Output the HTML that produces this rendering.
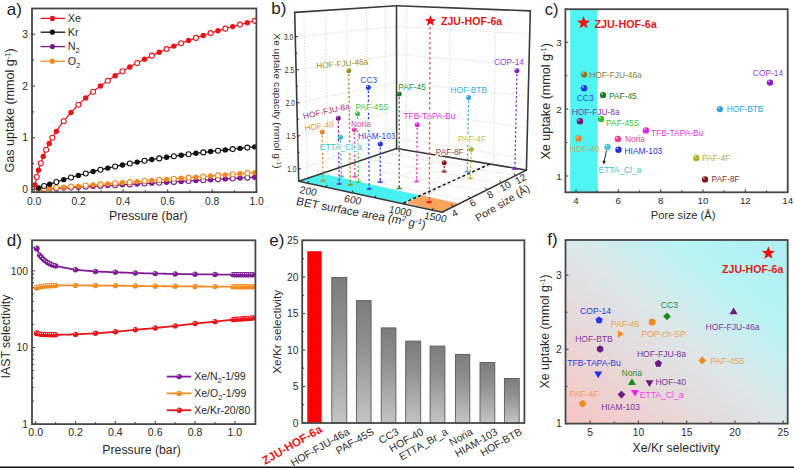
<!DOCTYPE html>
<html><head><meta charset="utf-8"><style>
html,body{margin:0;padding:0;background:#fff;width:794px;height:468px;overflow:hidden}
svg{display:block}
</style></head><body><svg width="794" height="468" viewBox="0 0 794 468" font-family='"Liberation Sans", sans-serif'><defs><radialGradient id="g8c7c28" cx="0.38" cy="0.35" r="0.65" fx="0.3" fy="0.28"><stop offset="0" stop-color="#ffffff"/><stop offset="0.3" stop-color="#8c7c28"/><stop offset="1" stop-color="#8c7c28"/></radialGradient><radialGradient id="g2038e8" cx="0.38" cy="0.35" r="0.65" fx="0.3" fy="0.28"><stop offset="0" stop-color="#ffffff"/><stop offset="0.3" stop-color="#2038e8"/><stop offset="1" stop-color="#2038e8"/></radialGradient><radialGradient id="g1e7a1e" cx="0.38" cy="0.35" r="0.65" fx="0.3" fy="0.28"><stop offset="0" stop-color="#ffffff"/><stop offset="0.3" stop-color="#1e7a1e"/><stop offset="1" stop-color="#1e7a1e"/></radialGradient><radialGradient id="g6a1a80" cx="0.38" cy="0.35" r="0.65" fx="0.3" fy="0.28"><stop offset="0" stop-color="#ffffff"/><stop offset="0.3" stop-color="#6a1a80"/><stop offset="1" stop-color="#6a1a80"/></radialGradient><radialGradient id="g30c030" cx="0.38" cy="0.35" r="0.65" fx="0.3" fy="0.28"><stop offset="0" stop-color="#ffffff"/><stop offset="0.3" stop-color="#30c030"/><stop offset="1" stop-color="#30c030"/></radialGradient><radialGradient id="ge020e0" cx="0.38" cy="0.35" r="0.65" fx="0.3" fy="0.28"><stop offset="0" stop-color="#ffffff"/><stop offset="0.3" stop-color="#e020e0"/><stop offset="1" stop-color="#e020e0"/></radialGradient><radialGradient id="ge8862c" cx="0.38" cy="0.35" r="0.65" fx="0.3" fy="0.28"><stop offset="0" stop-color="#ffffff"/><stop offset="0.3" stop-color="#e8862c"/><stop offset="1" stop-color="#e8862c"/></radialGradient><radialGradient id="ge84090" cx="0.38" cy="0.35" r="0.65" fx="0.3" fy="0.28"><stop offset="0" stop-color="#ffffff"/><stop offset="0.3" stop-color="#e84090"/><stop offset="1" stop-color="#e84090"/></radialGradient><radialGradient id="g40c8d0" cx="0.38" cy="0.35" r="0.65" fx="0.3" fy="0.28"><stop offset="0" stop-color="#ffffff"/><stop offset="0.3" stop-color="#40c8d0"/><stop offset="1" stop-color="#40c8d0"/></radialGradient><radialGradient id="g2030d0" cx="0.38" cy="0.35" r="0.65" fx="0.3" fy="0.28"><stop offset="0" stop-color="#ffffff"/><stop offset="0.3" stop-color="#2030d0"/><stop offset="1" stop-color="#2030d0"/></radialGradient><radialGradient id="g8a20d0" cx="0.38" cy="0.35" r="0.65" fx="0.3" fy="0.28"><stop offset="0" stop-color="#ffffff"/><stop offset="0.3" stop-color="#8a20d0"/><stop offset="1" stop-color="#8a20d0"/></radialGradient><radialGradient id="g30a0e0" cx="0.38" cy="0.35" r="0.65" fx="0.3" fy="0.28"><stop offset="0" stop-color="#ffffff"/><stop offset="0.3" stop-color="#30a0e0"/><stop offset="1" stop-color="#30a0e0"/></radialGradient><radialGradient id="gb0b030" cx="0.38" cy="0.35" r="0.65" fx="0.3" fy="0.28"><stop offset="0" stop-color="#ffffff"/><stop offset="0.3" stop-color="#b0b030"/><stop offset="1" stop-color="#b0b030"/></radialGradient><radialGradient id="g801818" cx="0.38" cy="0.35" r="0.65" fx="0.3" fy="0.28"><stop offset="0" stop-color="#ffffff"/><stop offset="0.3" stop-color="#801818"/><stop offset="1" stop-color="#801818"/></radialGradient><radialGradient id="g7e1e96" cx="0.38" cy="0.35" r="0.65" fx="0.3" fy="0.28"><stop offset="0" stop-color="#ffffff"/><stop offset="0.3" stop-color="#7e1e96"/><stop offset="1" stop-color="#7e1e96"/></radialGradient><radialGradient id="gf28c22" cx="0.38" cy="0.35" r="0.65" fx="0.3" fy="0.28"><stop offset="0" stop-color="#ffffff"/><stop offset="0.3" stop-color="#f28c22"/><stop offset="1" stop-color="#f28c22"/></radialGradient><radialGradient id="ge8141a" cx="0.38" cy="0.35" r="0.65" fx="0.3" fy="0.28"><stop offset="0" stop-color="#ffffff"/><stop offset="0.3" stop-color="#e8141a"/><stop offset="1" stop-color="#e8141a"/></radialGradient><radialGradient id="g8c8c1e" cx="0.38" cy="0.35" r="0.65" fx="0.3" fy="0.28"><stop offset="0" stop-color="#ffffff"/><stop offset="0.3" stop-color="#8c8c1e"/><stop offset="1" stop-color="#8c8c1e"/></radialGradient><radialGradient id="g2040e0" cx="0.38" cy="0.35" r="0.65" fx="0.3" fy="0.28"><stop offset="0" stop-color="#ffffff"/><stop offset="0.3" stop-color="#2040e0"/><stop offset="1" stop-color="#2040e0"/></radialGradient><radialGradient id="g7a1a8a" cx="0.38" cy="0.35" r="0.65" fx="0.3" fy="0.28"><stop offset="0" stop-color="#ffffff"/><stop offset="0.3" stop-color="#7a1a8a"/><stop offset="1" stop-color="#7a1a8a"/></radialGradient><radialGradient id="g40c040" cx="0.38" cy="0.35" r="0.65" fx="0.3" fy="0.28"><stop offset="0" stop-color="#ffffff"/><stop offset="0.3" stop-color="#40c040"/><stop offset="1" stop-color="#40c040"/></radialGradient><radialGradient id="ge08020" cx="0.38" cy="0.35" r="0.65" fx="0.3" fy="0.28"><stop offset="0" stop-color="#ffffff"/><stop offset="0.3" stop-color="#e08020"/><stop offset="1" stop-color="#e08020"/></radialGradient><radialGradient id="ge040a0" cx="0.38" cy="0.35" r="0.65" fx="0.3" fy="0.28"><stop offset="0" stop-color="#ffffff"/><stop offset="0.3" stop-color="#e040a0"/><stop offset="1" stop-color="#e040a0"/></radialGradient><radialGradient id="g30b8c8" cx="0.38" cy="0.35" r="0.65" fx="0.3" fy="0.28"><stop offset="0" stop-color="#ffffff"/><stop offset="0.3" stop-color="#30b8c8"/><stop offset="1" stop-color="#30b8c8"/></radialGradient><radialGradient id="g1a7a1a" cx="0.38" cy="0.35" r="0.65" fx="0.3" fy="0.28"><stop offset="0" stop-color="#ffffff"/><stop offset="0.3" stop-color="#1a7a1a"/><stop offset="1" stop-color="#1a7a1a"/></radialGradient><radialGradient id="g7020c8" cx="0.38" cy="0.35" r="0.65" fx="0.3" fy="0.28"><stop offset="0" stop-color="#ffffff"/><stop offset="0.3" stop-color="#7020c8"/><stop offset="1" stop-color="#7020c8"/></radialGradient><radialGradient id="gb0b020" cx="0.38" cy="0.35" r="0.65" fx="0.3" fy="0.28"><stop offset="0" stop-color="#ffffff"/><stop offset="0.3" stop-color="#b0b020"/><stop offset="1" stop-color="#b0b020"/></radialGradient></defs><text x="6.7" y="15.2" font-size="17" fill="#222" text-anchor="start" font-weight="normal" >a)</text><clipPath id="clipa"><rect x="32" y="8.5" width="224.39999999999998" height="183.7"/></clipPath><g clip-path="url(#clipa)"><polyline points="34.1,189.5 35.97,180.35 37.84,172.83 39.71,166.45 41.58,160.9 43.45,155.97 45.32,151.54 47.19,147.49 49.06,143.76 50.94,140.29 52.81,137.04 54.68,133.98 56.55,131.09 58.42,128.33 60.29,125.71 62.16,123.19 64.03,120.78 65.9,118.46 67.77,116.23 69.64,114.07 71.51,111.98 73.38,109.96 75.25,107.99 77.12,106.09 78.99,104.23 80.86,102.43 82.74,100.68 84.61,98.96 86.48,97.29 88.35,95.67 90.22,94.07 92.09,92.52 93.96,91 95.83,89.51 97.7,88.05 99.57,86.63 101.44,85.23 103.31,83.86 105.18,82.52 107.05,81.2 108.92,79.91 110.79,78.64 112.66,77.4 114.54,76.18 116.41,74.98 118.28,73.8 120.15,72.65 122.02,71.51 123.89,70.39 125.76,69.29 127.63,68.21 129.5,67.15 131.37,66.1 133.24,65.07 135.11,64.06 136.98,63.06 138.85,62.08 140.72,61.11 142.59,60.16 144.46,59.22 146.34,58.29 148.21,57.38 150.08,56.49 151.95,55.6 153.82,54.73 155.69,53.87 157.56,53.02 159.43,52.19 161.3,51.36 163.17,50.55 165.04,49.75 166.91,48.96 168.78,48.18 170.65,47.41 172.52,46.65 174.39,45.9 176.26,45.16 178.14,44.43 180.01,43.71 181.88,43 183.75,42.29 185.62,41.6 187.49,40.91 189.36,40.23 191.23,39.57 193.1,38.9 194.97,38.25 196.84,37.61 198.71,36.97 200.58,36.34 202.45,35.72 204.32,35.1 206.19,34.49 208.06,33.89 209.94,33.3 211.81,32.71 213.68,32.13 215.55,31.56 217.42,30.99 219.29,30.43 221.16,29.87 223.03,29.32 224.9,28.78 226.77,28.24 228.64,27.71 230.51,27.18 232.38,26.66 234.25,26.15 236.12,25.64 237.99,25.14 239.86,24.64 241.74,24.14 243.61,23.66 245.48,23.17 247.35,22.69 249.22,22.22 251.09,21.75 252.96,21.29 254.83,20.83 256.7,20.37" fill="none" stroke="#e8141a" stroke-width="1.2" /><polyline points="34.1,189.63 35.97,188.94 37.84,188.26 39.71,187.59 41.58,186.93 43.45,186.27 45.32,185.62 47.19,184.99 49.06,184.35 50.94,183.73 52.81,183.11 54.68,182.5 56.55,181.9 58.42,181.31 60.29,180.72 62.16,180.14 64.03,179.57 65.9,179.01 67.77,178.45 69.64,177.9 71.51,177.35 73.38,176.81 75.25,176.28 77.12,175.76 78.99,175.24 80.86,174.73 82.74,174.23 84.61,173.73 86.48,173.24 88.35,172.76 90.22,172.28 92.09,171.8 93.96,171.34 95.83,170.88 97.7,170.42 99.57,169.98 101.44,169.53 103.31,169.1 105.18,168.67 107.05,168.24 108.92,167.82 110.79,167.41 112.66,167 114.54,166.59 116.41,166.2 118.28,165.8 120.15,165.42 122.02,165.03 123.89,164.66 125.76,164.28 127.63,163.92 129.5,163.55 131.37,163.2 133.24,162.84 135.11,162.49 136.98,162.15 138.85,161.81 140.72,161.48 142.59,161.14 144.46,160.82 146.34,160.5 148.21,160.18 150.08,159.87 151.95,159.56 153.82,159.25 155.69,158.95 157.56,158.65 159.43,158.36 161.3,158.07 163.17,157.78 165.04,157.5 166.91,157.22 168.78,156.94 170.65,156.67 172.52,156.4 174.39,156.13 176.26,155.87 178.14,155.61 180.01,155.35 181.88,155.1 183.75,154.85 185.62,154.6 187.49,154.36 189.36,154.11 191.23,153.87 193.1,153.64 194.97,153.4 196.84,153.17 198.71,152.94 200.58,152.71 202.45,152.49 204.32,152.26 206.19,152.04 208.06,151.82 209.94,151.61 211.81,151.39 213.68,151.18 215.55,150.97 217.42,150.76 219.29,150.55 221.16,150.34 223.03,150.14 224.9,149.93 226.77,149.73 228.64,149.53 230.51,149.33 232.38,149.13 234.25,148.94 236.12,148.74 237.99,148.54 239.86,148.35 241.74,148.16 243.61,147.96 245.48,147.77 247.35,147.58 249.22,147.39 251.09,147.2 252.96,147.01 254.83,146.82 256.7,146.63" fill="none" stroke="#111111" stroke-width="1.2" /><polyline points="34.1,189.5 35.97,189.42 37.84,189.33 39.71,189.24 41.58,189.15 43.45,189.05 45.32,188.96 47.19,188.87 49.06,188.77 50.94,188.67 52.81,188.58 54.68,188.48 56.55,188.38 58.42,188.29 60.29,188.19 62.16,188.09 64.03,187.99 65.9,187.89 67.77,187.79 69.64,187.69 71.51,187.59 73.38,187.49 75.25,187.39 77.12,187.29 78.99,187.19 80.86,187.09 82.74,186.99 84.61,186.88 86.48,186.78 88.35,186.68 90.22,186.58 92.09,186.47 93.96,186.37 95.83,186.27 97.7,186.17 99.57,186.06 101.44,185.96 103.31,185.86 105.18,185.75 107.05,185.65 108.92,185.55 110.79,185.44 112.66,185.34 114.54,185.23 116.41,185.13 118.28,185.03 120.15,184.92 122.02,184.82 123.89,184.71 125.76,184.61 127.63,184.5 129.5,184.4 131.37,184.29 133.24,184.19 135.11,184.08 136.98,183.98 138.85,183.87 140.72,183.77 142.59,183.66 144.46,183.55 146.34,183.45 148.21,183.34 150.08,183.24 151.95,183.13 153.82,183.02 155.69,182.92 157.56,182.81 159.43,182.71 161.3,182.6 163.17,182.49 165.04,182.39 166.91,182.28 168.78,182.17 170.65,182.06 172.52,181.96 174.39,181.85 176.26,181.74 178.14,181.64 180.01,181.53 181.88,181.42 183.75,181.31 185.62,181.21 187.49,181.1 189.36,180.99 191.23,180.88 193.1,180.78 194.97,180.67 196.84,180.56 198.71,180.45 200.58,180.35 202.45,180.24 204.32,180.13 206.19,180.02 208.06,179.91 209.94,179.8 211.81,179.7 213.68,179.59 215.55,179.48 217.42,179.37 219.29,179.26 221.16,179.15 223.03,179.04 224.9,178.94 226.77,178.83 228.64,178.72 230.51,178.61 232.38,178.5 234.25,178.39 236.12,178.28 237.99,178.17 239.86,178.06 241.74,177.96 243.61,177.85 245.48,177.74 247.35,177.63 249.22,177.52 251.09,177.41 252.96,177.3 254.83,177.19 256.7,177.08" fill="none" stroke="#7a1a8c" stroke-width="1.2" /><polyline points="34.1,189.5 35.97,189.36 37.84,189.21 39.71,189.07 41.58,188.93 43.45,188.78 45.32,188.64 47.19,188.5 49.06,188.35 50.94,188.21 52.81,188.06 54.68,187.92 56.55,187.78 58.42,187.63 60.29,187.49 62.16,187.35 64.03,187.2 65.9,187.06 67.77,186.92 69.64,186.77 71.51,186.63 73.38,186.49 75.25,186.34 77.12,186.2 78.99,186.06 80.86,185.91 82.74,185.77 84.61,185.63 86.48,185.48 88.35,185.34 90.22,185.19 92.09,185.05 93.96,184.91 95.83,184.76 97.7,184.62 99.57,184.48 101.44,184.33 103.31,184.19 105.18,184.05 107.05,183.9 108.92,183.76 110.79,183.62 112.66,183.47 114.54,183.33 116.41,183.19 118.28,183.04 120.15,182.9 122.02,182.76 123.89,182.61 125.76,182.47 127.63,182.32 129.5,182.18 131.37,182.04 133.24,181.89 135.11,181.75 136.98,181.61 138.85,181.46 140.72,181.32 142.59,181.18 144.46,181.03 146.34,180.89 148.21,180.75 150.08,180.6 151.95,180.46 153.82,180.32 155.69,180.17 157.56,180.03 159.43,179.88 161.3,179.74 163.17,179.6 165.04,179.45 166.91,179.31 168.78,179.17 170.65,179.02 172.52,178.88 174.39,178.74 176.26,178.59 178.14,178.45 180.01,178.31 181.88,178.16 183.75,178.02 185.62,177.88 187.49,177.73 189.36,177.59 191.23,177.45 193.1,177.3 194.97,177.16 196.84,177.01 198.71,176.87 200.58,176.73 202.45,176.58 204.32,176.44 206.19,176.3 208.06,176.15 209.94,176.01 211.81,175.87 213.68,175.72 215.55,175.58 217.42,175.44 219.29,175.29 221.16,175.15 223.03,175.01 224.9,174.86 226.77,174.72 228.64,174.58 230.51,174.43 232.38,174.29 234.25,174.14 236.12,174 237.99,173.86 239.86,173.71 241.74,173.57 243.61,173.43 245.48,173.28 247.35,173.14 249.22,173 251.09,172.85 252.96,172.71 254.83,172.57 256.7,172.42" fill="none" stroke="#f08a24" stroke-width="1.2" /><circle cx="38.55" cy="189.3" r="2.7" fill="#7a1a8c" stroke="none" stroke-width="1" /><circle cx="49.68" cy="188.74" r="2.7" fill="#7a1a8c" stroke="none" stroke-width="1" /><circle cx="63.71" cy="188.01" r="2.7" fill="#7a1a8c" stroke="none" stroke-width="1" /><circle cx="78.4" cy="187.22" r="2.7" fill="#7a1a8c" stroke="none" stroke-width="1" /><circle cx="93.09" cy="186.42" r="2.7" fill="#7a1a8c" stroke="none" stroke-width="1" /><circle cx="107.78" cy="185.61" r="2.7" fill="#7a1a8c" stroke="none" stroke-width="1" /><circle cx="122.47" cy="184.79" r="2.7" fill="#7a1a8c" stroke="none" stroke-width="1" /><circle cx="137.16" cy="183.97" r="2.7" fill="#7a1a8c" stroke="none" stroke-width="1" /><circle cx="151.86" cy="183.14" r="2.7" fill="#7a1a8c" stroke="none" stroke-width="1" /><circle cx="166.55" cy="182.3" r="2.7" fill="#7a1a8c" stroke="none" stroke-width="1" /><circle cx="181.24" cy="181.46" r="2.7" fill="#7a1a8c" stroke="none" stroke-width="1" /><circle cx="195.93" cy="180.61" r="2.7" fill="#7a1a8c" stroke="none" stroke-width="1" /><circle cx="210.62" cy="179.76" r="2.7" fill="#7a1a8c" stroke="none" stroke-width="1" /><circle cx="225.31" cy="178.91" r="2.7" fill="#7a1a8c" stroke="none" stroke-width="1" /><circle cx="240" cy="178.06" r="2.7" fill="#7a1a8c" stroke="none" stroke-width="1" /><circle cx="254.7" cy="177.2" r="2.7" fill="#7a1a8c" stroke="none" stroke-width="1" /><circle cx="44.12" cy="189.02" r="2.5" fill="#ffffff" stroke="#7a1a8c" stroke-width="1.1" /><circle cx="56.36" cy="188.39" r="2.5" fill="#ffffff" stroke="#7a1a8c" stroke-width="1.1" /><circle cx="71.05" cy="187.62" r="2.5" fill="#ffffff" stroke="#7a1a8c" stroke-width="1.1" /><circle cx="85.74" cy="186.82" r="2.5" fill="#ffffff" stroke="#7a1a8c" stroke-width="1.1" /><circle cx="100.43" cy="186.02" r="2.5" fill="#ffffff" stroke="#7a1a8c" stroke-width="1.1" /><circle cx="115.13" cy="185.2" r="2.5" fill="#ffffff" stroke="#7a1a8c" stroke-width="1.1" /><circle cx="129.82" cy="184.38" r="2.5" fill="#ffffff" stroke="#7a1a8c" stroke-width="1.1" /><circle cx="144.51" cy="183.55" r="2.5" fill="#ffffff" stroke="#7a1a8c" stroke-width="1.1" /><circle cx="159.2" cy="182.72" r="2.5" fill="#ffffff" stroke="#7a1a8c" stroke-width="1.1" /><circle cx="173.89" cy="181.88" r="2.5" fill="#ffffff" stroke="#7a1a8c" stroke-width="1.1" /><circle cx="188.58" cy="181.04" r="2.5" fill="#ffffff" stroke="#7a1a8c" stroke-width="1.1" /><circle cx="203.28" cy="180.19" r="2.5" fill="#ffffff" stroke="#7a1a8c" stroke-width="1.1" /><circle cx="217.97" cy="179.34" r="2.5" fill="#ffffff" stroke="#7a1a8c" stroke-width="1.1" /><circle cx="232.66" cy="178.48" r="2.5" fill="#ffffff" stroke="#7a1a8c" stroke-width="1.1" /><circle cx="247.35" cy="177.63" r="2.5" fill="#ffffff" stroke="#7a1a8c" stroke-width="1.1" /><circle cx="38.55" cy="189.16" r="2.7" fill="#f08a24" stroke="none" stroke-width="1" /><circle cx="49.68" cy="188.3" r="2.7" fill="#f08a24" stroke="none" stroke-width="1" /><circle cx="63.71" cy="187.23" r="2.7" fill="#f08a24" stroke="none" stroke-width="1" /><circle cx="78.4" cy="186.1" r="2.7" fill="#f08a24" stroke="none" stroke-width="1" /><circle cx="93.09" cy="184.97" r="2.7" fill="#f08a24" stroke="none" stroke-width="1" /><circle cx="107.78" cy="183.85" r="2.7" fill="#f08a24" stroke="none" stroke-width="1" /><circle cx="122.47" cy="182.72" r="2.7" fill="#f08a24" stroke="none" stroke-width="1" /><circle cx="137.16" cy="181.59" r="2.7" fill="#f08a24" stroke="none" stroke-width="1" /><circle cx="151.86" cy="180.47" r="2.7" fill="#f08a24" stroke="none" stroke-width="1" /><circle cx="166.55" cy="179.34" r="2.7" fill="#f08a24" stroke="none" stroke-width="1" /><circle cx="181.24" cy="178.21" r="2.7" fill="#f08a24" stroke="none" stroke-width="1" /><circle cx="195.93" cy="177.08" r="2.7" fill="#f08a24" stroke="none" stroke-width="1" /><circle cx="210.62" cy="175.96" r="2.7" fill="#f08a24" stroke="none" stroke-width="1" /><circle cx="225.31" cy="174.83" r="2.7" fill="#f08a24" stroke="none" stroke-width="1" /><circle cx="240" cy="173.7" r="2.7" fill="#f08a24" stroke="none" stroke-width="1" /><circle cx="254.7" cy="172.58" r="2.7" fill="#f08a24" stroke="none" stroke-width="1" /><circle cx="44.12" cy="188.73" r="2.5" fill="#ffffff" stroke="#f08a24" stroke-width="1.1" /><circle cx="56.36" cy="187.79" r="2.5" fill="#ffffff" stroke="#f08a24" stroke-width="1.1" /><circle cx="71.05" cy="186.67" r="2.5" fill="#ffffff" stroke="#f08a24" stroke-width="1.1" /><circle cx="85.74" cy="185.54" r="2.5" fill="#ffffff" stroke="#f08a24" stroke-width="1.1" /><circle cx="100.43" cy="184.41" r="2.5" fill="#ffffff" stroke="#f08a24" stroke-width="1.1" /><circle cx="115.13" cy="183.28" r="2.5" fill="#ffffff" stroke="#f08a24" stroke-width="1.1" /><circle cx="129.82" cy="182.16" r="2.5" fill="#ffffff" stroke="#f08a24" stroke-width="1.1" /><circle cx="144.51" cy="181.03" r="2.5" fill="#ffffff" stroke="#f08a24" stroke-width="1.1" /><circle cx="159.2" cy="179.9" r="2.5" fill="#ffffff" stroke="#f08a24" stroke-width="1.1" /><circle cx="173.89" cy="178.78" r="2.5" fill="#ffffff" stroke="#f08a24" stroke-width="1.1" /><circle cx="188.58" cy="177.65" r="2.5" fill="#ffffff" stroke="#f08a24" stroke-width="1.1" /><circle cx="203.28" cy="176.52" r="2.5" fill="#ffffff" stroke="#f08a24" stroke-width="1.1" /><circle cx="217.97" cy="175.39" r="2.5" fill="#ffffff" stroke="#f08a24" stroke-width="1.1" /><circle cx="232.66" cy="174.27" r="2.5" fill="#ffffff" stroke="#f08a24" stroke-width="1.1" /><circle cx="247.35" cy="173.14" r="2.5" fill="#ffffff" stroke="#f08a24" stroke-width="1.1" /><circle cx="38.55" cy="188" r="2.7" fill="#111111" stroke="none" stroke-width="1" /><circle cx="49.68" cy="184.15" r="2.7" fill="#111111" stroke="none" stroke-width="1" /><circle cx="63.71" cy="179.67" r="2.7" fill="#111111" stroke="none" stroke-width="1" /><circle cx="78.4" cy="175.41" r="2.7" fill="#111111" stroke="none" stroke-width="1" /><circle cx="93.09" cy="171.55" r="2.7" fill="#111111" stroke="none" stroke-width="1" /><circle cx="107.78" cy="168.08" r="2.7" fill="#111111" stroke="none" stroke-width="1" /><circle cx="122.47" cy="164.94" r="2.7" fill="#111111" stroke="none" stroke-width="1" /><circle cx="137.16" cy="162.12" r="2.7" fill="#111111" stroke="none" stroke-width="1" /><circle cx="151.86" cy="159.57" r="2.7" fill="#111111" stroke="none" stroke-width="1" /><circle cx="166.55" cy="157.27" r="2.7" fill="#111111" stroke="none" stroke-width="1" /><circle cx="181.24" cy="155.19" r="2.7" fill="#111111" stroke="none" stroke-width="1" /><circle cx="195.93" cy="153.28" r="2.7" fill="#111111" stroke="none" stroke-width="1" /><circle cx="210.62" cy="151.53" r="2.7" fill="#111111" stroke="none" stroke-width="1" /><circle cx="225.31" cy="149.89" r="2.7" fill="#111111" stroke="none" stroke-width="1" /><circle cx="240" cy="148.34" r="2.7" fill="#111111" stroke="none" stroke-width="1" /><circle cx="254.7" cy="146.84" r="2.7" fill="#111111" stroke="none" stroke-width="1" /><circle cx="44.12" cy="186.04" r="2.5" fill="#ffffff" stroke="#111111" stroke-width="1.1" /><circle cx="56.36" cy="181.96" r="2.5" fill="#ffffff" stroke="#111111" stroke-width="1.1" /><circle cx="71.05" cy="177.49" r="2.5" fill="#ffffff" stroke="#111111" stroke-width="1.1" /><circle cx="85.74" cy="173.43" r="2.5" fill="#ffffff" stroke="#111111" stroke-width="1.1" /><circle cx="100.43" cy="169.77" r="2.5" fill="#ffffff" stroke="#111111" stroke-width="1.1" /><circle cx="115.13" cy="166.47" r="2.5" fill="#ffffff" stroke="#111111" stroke-width="1.1" /><circle cx="129.82" cy="163.49" r="2.5" fill="#ffffff" stroke="#111111" stroke-width="1.1" /><circle cx="144.51" cy="160.81" r="2.5" fill="#ffffff" stroke="#111111" stroke-width="1.1" /><circle cx="159.2" cy="158.39" r="2.5" fill="#ffffff" stroke="#111111" stroke-width="1.1" /><circle cx="173.89" cy="156.2" r="2.5" fill="#ffffff" stroke="#111111" stroke-width="1.1" /><circle cx="188.58" cy="154.21" r="2.5" fill="#ffffff" stroke="#111111" stroke-width="1.1" /><circle cx="203.28" cy="152.39" r="2.5" fill="#ffffff" stroke="#111111" stroke-width="1.1" /><circle cx="217.97" cy="150.7" r="2.5" fill="#ffffff" stroke="#111111" stroke-width="1.1" /><circle cx="232.66" cy="149.1" r="2.5" fill="#ffffff" stroke="#111111" stroke-width="1.1" /><circle cx="247.35" cy="147.58" r="2.5" fill="#ffffff" stroke="#111111" stroke-width="1.1" /><circle cx="34.99" cy="184.9" r="2.7" fill="#e8141a" stroke="none" stroke-width="1" /><circle cx="38.55" cy="170.29" r="2.7" fill="#e8141a" stroke="none" stroke-width="1" /><circle cx="43.23" cy="156.54" r="2.7" fill="#e8141a" stroke="none" stroke-width="1" /><circle cx="49.24" cy="143.43" r="2.7" fill="#e8141a" stroke="none" stroke-width="1" /><circle cx="56.36" cy="131.37" r="2.7" fill="#e8141a" stroke="none" stroke-width="1" /><circle cx="71.05" cy="112.49" r="2.7" fill="#e8141a" stroke="none" stroke-width="1" /><circle cx="85.74" cy="97.94" r="2.7" fill="#e8141a" stroke="none" stroke-width="1" /><circle cx="100.43" cy="85.98" r="2.7" fill="#e8141a" stroke="none" stroke-width="1" /><circle cx="115.13" cy="75.8" r="2.7" fill="#e8141a" stroke="none" stroke-width="1" /><circle cx="129.82" cy="66.97" r="2.7" fill="#e8141a" stroke="none" stroke-width="1" /><circle cx="144.51" cy="59.2" r="2.7" fill="#e8141a" stroke="none" stroke-width="1" /><circle cx="159.2" cy="52.29" r="2.7" fill="#e8141a" stroke="none" stroke-width="1" /><circle cx="173.89" cy="46.1" r="2.7" fill="#e8141a" stroke="none" stroke-width="1" /><circle cx="188.58" cy="40.51" r="2.7" fill="#e8141a" stroke="none" stroke-width="1" /><circle cx="203.28" cy="35.45" r="2.7" fill="#e8141a" stroke="none" stroke-width="1" /><circle cx="217.97" cy="30.82" r="2.7" fill="#e8141a" stroke="none" stroke-width="1" /><circle cx="232.66" cy="26.59" r="2.7" fill="#e8141a" stroke="none" stroke-width="1" /><circle cx="247.35" cy="22.69" r="2.7" fill="#e8141a" stroke="none" stroke-width="1" /><circle cx="36.77" cy="176.96" r="2.5" fill="#ffffff" stroke="#e8141a" stroke-width="1.1" /><circle cx="40.78" cy="163.2" r="2.5" fill="#ffffff" stroke="#e8141a" stroke-width="1.1" /><circle cx="46.12" cy="149.77" r="2.5" fill="#ffffff" stroke="#e8141a" stroke-width="1.1" /><circle cx="52.35" cy="137.81" r="2.5" fill="#ffffff" stroke="#e8141a" stroke-width="1.1" /><circle cx="63.71" cy="121.19" r="2.5" fill="#ffffff" stroke="#e8141a" stroke-width="1.1" /><circle cx="78.4" cy="104.82" r="2.5" fill="#ffffff" stroke="#e8141a" stroke-width="1.1" /><circle cx="93.09" cy="91.7" r="2.5" fill="#ffffff" stroke="#e8141a" stroke-width="1.1" /><circle cx="107.78" cy="80.7" r="2.5" fill="#ffffff" stroke="#e8141a" stroke-width="1.1" /><circle cx="122.47" cy="71.23" r="2.5" fill="#ffffff" stroke="#e8141a" stroke-width="1.1" /><circle cx="137.16" cy="62.96" r="2.5" fill="#ffffff" stroke="#e8141a" stroke-width="1.1" /><circle cx="151.86" cy="55.64" r="2.5" fill="#ffffff" stroke="#e8141a" stroke-width="1.1" /><circle cx="166.55" cy="49.11" r="2.5" fill="#ffffff" stroke="#e8141a" stroke-width="1.1" /><circle cx="181.24" cy="43.24" r="2.5" fill="#ffffff" stroke="#e8141a" stroke-width="1.1" /><circle cx="195.93" cy="37.92" r="2.5" fill="#ffffff" stroke="#e8141a" stroke-width="1.1" /><circle cx="210.62" cy="33.08" r="2.5" fill="#ffffff" stroke="#e8141a" stroke-width="1.1" /><circle cx="225.31" cy="28.66" r="2.5" fill="#ffffff" stroke="#e8141a" stroke-width="1.1" /><circle cx="240" cy="24.6" r="2.5" fill="#ffffff" stroke="#e8141a" stroke-width="1.1" /><circle cx="254.7" cy="20.86" r="2.5" fill="#ffffff" stroke="#e8141a" stroke-width="1.1" /></g><rect x="32" y="8.5" width="224.39999999999998" height="183.7" fill="none" stroke="#474747" stroke-width="1.8"/><line x1="34.1" y1="192.2" x2="34.1" y2="189.2" stroke="#474747" stroke-width="1.1" /><text x="34.1" y="204.7" font-size="10.3" fill="#2a2a2a" text-anchor="middle" font-weight="normal" >0.0</text><line x1="56.36" y1="192.2" x2="56.36" y2="190.2" stroke="#474747" stroke-width="1.1" /><line x1="78.62" y1="192.2" x2="78.62" y2="189.2" stroke="#474747" stroke-width="1.1" /><text x="78.62" y="204.7" font-size="10.3" fill="#2a2a2a" text-anchor="middle" font-weight="normal" >0.2</text><line x1="100.88" y1="192.2" x2="100.88" y2="190.2" stroke="#474747" stroke-width="1.1" /><line x1="123.14" y1="192.2" x2="123.14" y2="189.2" stroke="#474747" stroke-width="1.1" /><text x="123.14" y="204.7" font-size="10.3" fill="#2a2a2a" text-anchor="middle" font-weight="normal" >0.4</text><line x1="145.4" y1="192.2" x2="145.4" y2="190.2" stroke="#474747" stroke-width="1.1" /><line x1="167.66" y1="192.2" x2="167.66" y2="189.2" stroke="#474747" stroke-width="1.1" /><text x="167.66" y="204.7" font-size="10.3" fill="#2a2a2a" text-anchor="middle" font-weight="normal" >0.6</text><line x1="189.92" y1="192.2" x2="189.92" y2="190.2" stroke="#474747" stroke-width="1.1" /><line x1="212.18" y1="192.2" x2="212.18" y2="189.2" stroke="#474747" stroke-width="1.1" /><text x="212.18" y="204.7" font-size="10.3" fill="#2a2a2a" text-anchor="middle" font-weight="normal" >0.8</text><line x1="234.44" y1="192.2" x2="234.44" y2="190.2" stroke="#474747" stroke-width="1.1" /><line x1="256.7" y1="192.2" x2="256.7" y2="189.2" stroke="#474747" stroke-width="1.1" /><text x="256.7" y="204.7" font-size="10.3" fill="#2a2a2a" text-anchor="middle" font-weight="normal" >1.0</text><line x1="32" y1="189.5" x2="35" y2="189.5" stroke="#474747" stroke-width="1.1" /><text x="28" y="193.1" font-size="10.3" fill="#2a2a2a" text-anchor="end" font-weight="normal" >0</text><line x1="32" y1="163.62" x2="34" y2="163.62" stroke="#474747" stroke-width="1.1" /><line x1="32" y1="137.75" x2="35" y2="137.75" stroke="#474747" stroke-width="1.1" /><text x="28" y="141.35" font-size="10.3" fill="#2a2a2a" text-anchor="end" font-weight="normal" >1</text><line x1="32" y1="111.88" x2="34" y2="111.88" stroke="#474747" stroke-width="1.1" /><line x1="32" y1="86" x2="35" y2="86" stroke="#474747" stroke-width="1.1" /><text x="28" y="89.6" font-size="10.3" fill="#2a2a2a" text-anchor="end" font-weight="normal" >2</text><line x1="32" y1="60.12" x2="34" y2="60.12" stroke="#474747" stroke-width="1.1" /><line x1="32" y1="34.25" x2="35" y2="34.25" stroke="#474747" stroke-width="1.1" /><text x="28" y="37.85" font-size="10.3" fill="#2a2a2a" text-anchor="end" font-weight="normal" >3</text><text x="148.3" y="220.3" font-size="12.3" fill="#2a2a2a" text-anchor="middle" font-weight="normal" >Pressure (bar)</text><text transform="translate(13.6,110.4) rotate(-90)" font-size="12.6" fill="#2a2a2a" text-anchor="middle">Gas uptake (mmol g<tspan dy="-4" font-size="7.5">-1</tspan><tspan dy="4">)</tspan></text><line x1="40.6" y1="18.4" x2="65.2" y2="18.4" stroke="#e8141a" stroke-width="1.3" /><circle cx="52.4" cy="18.4" r="2.6" fill="#e8141a" stroke="none" stroke-width="1" /><text x="67.8" y="22.2" font-size="10.8" fill="#2a2a2a" text-anchor="start" font-weight="normal" >Xe</text><line x1="40.6" y1="32.2" x2="65.2" y2="32.2" stroke="#111111" stroke-width="1.3" /><circle cx="52.4" cy="32.2" r="2.6" fill="#111111" stroke="none" stroke-width="1" /><text x="67.8" y="36" font-size="10.8" fill="#2a2a2a" text-anchor="start" font-weight="normal" >Kr</text><line x1="40.6" y1="46.6" x2="65.2" y2="46.6" stroke="#7a1a8c" stroke-width="1.3" /><circle cx="52.4" cy="46.6" r="2.6" fill="#7a1a8c" stroke="none" stroke-width="1" /><text x="67.8" y="50.4" font-size="10.8" fill="#2a2a2a" text-anchor="start" font-weight="normal" >N<tspan dy="3" font-size="7.5">2</tspan></text><line x1="40.6" y1="61.2" x2="65.2" y2="61.2" stroke="#f08a24" stroke-width="1.3" /><circle cx="52.4" cy="61.2" r="2.6" fill="#f08a24" stroke="none" stroke-width="1" /><text x="67.8" y="65" font-size="10.8" fill="#2a2a2a" text-anchor="start" font-weight="normal" >O<tspan dy="3" font-size="7.5">2</tspan></text><text x="544.8" y="14.6" font-size="16.5" fill="#222" text-anchor="start" font-weight="normal" >c)</text><rect x="570.2" y="9.2" width="27.4" height="183.10000000000002" fill="#50f4f2"/><rect x="565.4" y="9.2" width="222.30000000000007" height="183.10000000000002" fill="none" stroke="#474747" stroke-width="1.8"/><line x1="576" y1="192.3" x2="576" y2="189.3" stroke="#474747" stroke-width="1.1" /><text x="576" y="204.2" font-size="9.8" fill="#2a2a2a" text-anchor="middle" font-weight="normal" >4</text><line x1="597.17" y1="192.3" x2="597.17" y2="190.3" stroke="#474747" stroke-width="1.1" /><line x1="618.34" y1="192.3" x2="618.34" y2="189.3" stroke="#474747" stroke-width="1.1" /><text x="618.34" y="204.2" font-size="9.8" fill="#2a2a2a" text-anchor="middle" font-weight="normal" >6</text><line x1="639.51" y1="192.3" x2="639.51" y2="190.3" stroke="#474747" stroke-width="1.1" /><line x1="660.68" y1="192.3" x2="660.68" y2="189.3" stroke="#474747" stroke-width="1.1" /><text x="660.68" y="204.2" font-size="9.8" fill="#2a2a2a" text-anchor="middle" font-weight="normal" >8</text><line x1="681.85" y1="192.3" x2="681.85" y2="190.3" stroke="#474747" stroke-width="1.1" /><line x1="703.02" y1="192.3" x2="703.02" y2="189.3" stroke="#474747" stroke-width="1.1" /><text x="703.02" y="204.2" font-size="9.8" fill="#2a2a2a" text-anchor="middle" font-weight="normal" >10</text><line x1="724.19" y1="192.3" x2="724.19" y2="190.3" stroke="#474747" stroke-width="1.1" /><line x1="745.36" y1="192.3" x2="745.36" y2="189.3" stroke="#474747" stroke-width="1.1" /><text x="745.36" y="204.2" font-size="9.8" fill="#2a2a2a" text-anchor="middle" font-weight="normal" >12</text><line x1="766.53" y1="192.3" x2="766.53" y2="190.3" stroke="#474747" stroke-width="1.1" /><line x1="787.7" y1="192.3" x2="787.7" y2="189.3" stroke="#474747" stroke-width="1.1" /><text x="787.7" y="204.2" font-size="9.8" fill="#2a2a2a" text-anchor="middle" font-weight="normal" >14</text><line x1="565.4" y1="176" x2="568.4" y2="176" stroke="#474747" stroke-width="1.1" /><text x="561.8" y="179.5" font-size="9.8" fill="#2a2a2a" text-anchor="end" font-weight="normal" >1</text><line x1="565.4" y1="142.57" x2="567.4" y2="142.57" stroke="#474747" stroke-width="1.1" /><line x1="565.4" y1="109.15" x2="568.4" y2="109.15" stroke="#474747" stroke-width="1.1" /><text x="561.8" y="112.65" font-size="9.8" fill="#2a2a2a" text-anchor="end" font-weight="normal" >2</text><line x1="565.4" y1="75.73" x2="567.4" y2="75.73" stroke="#474747" stroke-width="1.1" /><line x1="565.4" y1="42.3" x2="568.4" y2="42.3" stroke="#474747" stroke-width="1.1" /><text x="561.8" y="45.8" font-size="9.8" fill="#2a2a2a" text-anchor="end" font-weight="normal" >3</text><line x1="565.4" y1="8.88" x2="567.4" y2="8.88" stroke="#474747" stroke-width="1.1" /><text x="683.2" y="218.7" font-size="11.2" fill="#2a2a2a" text-anchor="middle" font-weight="normal" >Pore size (Å)</text><text transform="translate(549.8,101.3) rotate(-90)" font-size="12.6" fill="#2a2a2a" text-anchor="middle">Xe uptake (mmol g<tspan dy="-4" font-size="7.5">-1</tspan><tspan dy="4">)</tspan></text><polygon points="583.6,16 585.28,20.49 590.07,20.7 586.32,23.68 587.6,28.3 583.6,25.66 579.6,28.3 580.88,23.68 577.13,20.7 581.92,20.49" fill="#ee1111" stroke="none" stroke-width="1" /><text x="594.4" y="28" font-size="10.8" fill="#e01818" text-anchor="start" font-weight="bold" >ZJU-HOF-6a</text><circle cx="584.1" cy="74.6" r="3.2" fill="url(#g8c7c28)" stroke="none" stroke-width="1" /><text x="589.2" y="78" font-size="8.4" fill="#8a8040" text-anchor="start" font-weight="normal" >HOF-FJU-46a</text><circle cx="584.1" cy="88.2" r="3.2" fill="url(#g2038e8)" stroke="none" stroke-width="1" /><text x="585.2" y="101.2" font-size="8.4" fill="#2a50e0" text-anchor="middle" font-weight="normal" >CC3</text><circle cx="603" cy="95.1" r="3.2" fill="url(#g1e7a1e)" stroke="none" stroke-width="1" /><text x="609" y="98.9" font-size="8.4" fill="#2a7a2a" text-anchor="start" font-weight="normal" >PAF-45</text><circle cx="580" cy="121.3" r="3.2" fill="url(#g6a1a80)" stroke="none" stroke-width="1" /><text x="571.7" y="114.6" font-size="8.4" fill="#7a40a0" text-anchor="start" font-weight="normal" >HOF-FJU-8a</text><circle cx="601" cy="119" r="3.2" fill="url(#g30c030)" stroke="none" stroke-width="1" /><text x="606.1" y="125.5" font-size="8.4" fill="#40c040" text-anchor="start" font-weight="normal" >PAF-45S</text><circle cx="645.9" cy="130.4" r="3.2" fill="url(#ge020e0)" stroke="none" stroke-width="1" /><text x="651" y="135.8" font-size="8.4" fill="#e030e0" text-anchor="start" font-weight="normal" >TFB-TAPA-Bu</text><circle cx="578.6" cy="138.4" r="3.2" fill="url(#ge8862c)" stroke="none" stroke-width="1" /><text x="569.7" y="152.3" font-size="8.4" fill="#d8a060" text-anchor="start" font-weight="normal" >HOF-40</text><circle cx="617.9" cy="139" r="3.2" fill="url(#ge84090)" stroke="none" stroke-width="1" /><text x="625" y="142" font-size="8.4" fill="#e04090" text-anchor="start" font-weight="normal" >Noria</text><circle cx="607.5" cy="147" r="3.2" fill="url(#g40c8d0)" stroke="none" stroke-width="1" /><text x="598.6" y="173" font-size="8.4" fill="#40c0c8" text-anchor="start" font-weight="normal" >ETTA_Cl_a</text><circle cx="618.5" cy="149.8" r="3.2" fill="url(#g2030d0)" stroke="none" stroke-width="1" /><text x="624.5" y="154.2" font-size="8.4" fill="#2a30c0" text-anchor="start" font-weight="normal" >HIAM-103</text><circle cx="770" cy="82.6" r="3.2" fill="url(#g8a20d0)" stroke="none" stroke-width="1" /><text x="768" y="75.7" font-size="8.4" fill="#9040d0" text-anchor="middle" font-weight="normal" >COP-14</text><circle cx="719.9" cy="109.1" r="3.2" fill="url(#g30a0e0)" stroke="none" stroke-width="1" /><text x="726.7" y="112.1" font-size="8.4" fill="#30a0e0" text-anchor="start" font-weight="normal" >HOF-BTB</text><circle cx="696.3" cy="158" r="3.2" fill="url(#gb0b030)" stroke="none" stroke-width="1" /><text x="702" y="161" font-size="8.4" fill="#b0b040" text-anchor="start" font-weight="normal" >PAF-4F</text><circle cx="705" cy="179.4" r="3.2" fill="url(#g801818)" stroke="none" stroke-width="1" /><text x="711.5" y="182.4" font-size="8.4" fill="#903030" text-anchor="start" font-weight="normal" >PAF-8F</text><line x1="606.5" y1="150.5" x2="604.2" y2="161" stroke="#111" stroke-width="0.9" /><polygon points="602.6,160.5 605.8,161.2 603.5,164.5" fill="#111" stroke="none" stroke-width="1" /><text x="6.7" y="245.9" font-size="17" fill="#222" text-anchor="start" font-weight="normal" >d)</text><polyline points="36.7,248.4 37.78,250.85 38.87,253.31 39.95,255.46 41.04,256.67 42.13,257.88 43.21,259.09 44.3,260.07 45.38,260.88 46.47,261.7 47.56,262.51 48.64,263.12 49.73,263.7 50.82,264.29 51.9,264.81 52.99,265.15 54.07,265.49 55.16,265.83 56.25,266.09 57.33,266.3 58.42,266.51 59.5,266.72 60.59,266.93 61.68,267.14 62.76,267.35 63.85,267.56 64.93,267.77 66.02,267.98 67.11,268.19 68.19,268.4 69.28,268.61 70.36,268.82 71.45,269.03 72.54,269.24 73.62,269.45 74.71,269.66 75.8,269.84 76.88,269.93 77.97,270.02 79.05,270.11 80.14,270.2 81.23,270.29 82.31,270.38 83.4,270.47 84.48,270.56 85.57,270.65 86.66,270.74 87.74,270.83 88.83,270.92 89.91,271.01 91,271.1 92.09,271.19 93.17,271.28 94.26,271.37 95.34,271.46 96.43,271.51 97.52,271.56 98.6,271.6 99.69,271.65 100.78,271.69 101.86,271.74 102.95,271.78 104.03,271.83 105.12,271.87 106.21,271.92 107.29,271.96 108.38,272.01 109.46,272.05 110.55,272.1 111.64,272.14 112.72,272.19 113.81,272.23 114.89,272.28 115.98,272.32 117.07,272.36 118.15,272.4 119.24,272.44 120.32,272.48 121.41,272.52 122.5,272.56 123.58,272.6 124.67,272.64 125.76,272.68 126.84,272.72 127.93,272.76 129.01,272.8 130.1,272.84 131.19,272.88 132.27,272.92 133.36,272.97 134.44,273.01 135.53,273.04 136.62,273.07 137.7,273.1 138.79,273.13 139.87,273.16 140.96,273.19 142.05,273.22 143.13,273.25 144.22,273.28 145.31,273.31 146.39,273.34 147.48,273.37 148.56,273.4 149.65,273.43 150.74,273.45 151.82,273.48 152.91,273.51 153.99,273.54 155.08,273.57 156.17,273.59 157.25,273.61 158.34,273.63 159.42,273.65 160.51,273.67 161.6,273.69 162.68,273.71 163.77,273.73 164.85,273.75 165.94,273.77 167.03,273.79 168.11,273.81 169.2,273.83 170.29,273.85 171.37,273.87 172.46,273.89 173.54,273.91 174.63,273.93 175.72,273.95 176.8,273.97 177.89,273.99 178.97,274.01 180.06,274.03 181.15,274.05 182.23,274.07 183.32,274.09 184.4,274.11 185.49,274.13 186.58,274.15 187.66,274.17 188.75,274.19 189.83,274.21 190.92,274.23 192.01,274.25 193.09,274.27 194.18,274.29 195.27,274.31 196.35,274.32 197.44,274.33 198.52,274.34 199.61,274.35 200.7,274.36 201.78,274.37 202.87,274.38 203.95,274.39 205.04,274.4 206.13,274.41 207.21,274.42 208.3,274.43 209.38,274.44 210.47,274.45 211.56,274.46 212.64,274.47 213.73,274.48 214.81,274.49 215.9,274.5 216.99,274.51 218.07,274.52 219.16,274.53 220.25,274.54 221.33,274.55 222.42,274.56 223.5,274.57 224.59,274.58 225.68,274.59 226.76,274.6 227.85,274.61 228.93,274.62 230.02,274.63 231.11,274.64 232.19,274.65 233.28,274.66 234.36,274.67 235.45,274.68 236.54,274.68 237.62,274.68 238.71,274.68 239.79,274.68 240.88,274.68 241.97,274.68 243.05,274.68 244.14,274.68 245.23,274.68 246.31,274.68 247.4,274.68 248.48,274.68 249.57,274.68 250.66,274.68 251.74,274.68 252.83,274.68" fill="none" stroke="#7e1e96" stroke-width="1.8" /><circle cx="36.7" cy="248.4" r="3" fill="url(#g7e1e96)" stroke="none" stroke-width="1" /><circle cx="39.68" cy="255.15" r="2.7" fill="url(#g7e1e96)" stroke="none" stroke-width="1" /><circle cx="41.68" cy="257.38" r="2.7" fill="url(#g7e1e96)" stroke="none" stroke-width="1" /><circle cx="43.67" cy="259.6" r="2.7" fill="url(#g7e1e96)" stroke="none" stroke-width="1" /><circle cx="45.66" cy="261.09" r="2.7" fill="url(#g7e1e96)" stroke="none" stroke-width="1" /><circle cx="47.65" cy="262.58" r="2.7" fill="url(#g7e1e96)" stroke="none" stroke-width="1" /><circle cx="49.64" cy="263.66" r="2.7" fill="url(#g7e1e96)" stroke="none" stroke-width="1" /><circle cx="51.64" cy="264.73" r="2.7" fill="url(#g7e1e96)" stroke="none" stroke-width="1" /><circle cx="53.63" cy="265.35" r="2.7" fill="url(#g7e1e96)" stroke="none" stroke-width="1" /><circle cx="55.62" cy="265.97" r="2.7" fill="url(#g7e1e96)" stroke="none" stroke-width="1" /><circle cx="75.54" cy="269.82" r="2.7" fill="url(#g7e1e96)" stroke="none" stroke-width="1" /><circle cx="95.46" cy="271.47" r="2.7" fill="url(#g7e1e96)" stroke="none" stroke-width="1" /><circle cx="115.38" cy="272.3" r="2.7" fill="url(#g7e1e96)" stroke="none" stroke-width="1" /><circle cx="135.3" cy="273.04" r="2.7" fill="url(#g7e1e96)" stroke="none" stroke-width="1" /><circle cx="155.22" cy="273.58" r="2.7" fill="url(#g7e1e96)" stroke="none" stroke-width="1" /><circle cx="175.14" cy="273.94" r="2.7" fill="url(#g7e1e96)" stroke="none" stroke-width="1" /><circle cx="195.06" cy="274.31" r="2.7" fill="url(#g7e1e96)" stroke="none" stroke-width="1" /><circle cx="214.98" cy="274.49" r="2.7" fill="url(#g7e1e96)" stroke="none" stroke-width="1" /><circle cx="232.91" cy="274.66" r="2.7" fill="url(#g7e1e96)" stroke="none" stroke-width="1" /><circle cx="234.9" cy="274.68" r="2.7" fill="url(#g7e1e96)" stroke="none" stroke-width="1" /><circle cx="236.89" cy="274.68" r="2.7" fill="url(#g7e1e96)" stroke="none" stroke-width="1" /><circle cx="238.88" cy="274.68" r="2.7" fill="url(#g7e1e96)" stroke="none" stroke-width="1" /><circle cx="240.88" cy="274.68" r="2.7" fill="url(#g7e1e96)" stroke="none" stroke-width="1" /><circle cx="242.87" cy="274.68" r="2.7" fill="url(#g7e1e96)" stroke="none" stroke-width="1" /><circle cx="244.86" cy="274.68" r="2.7" fill="url(#g7e1e96)" stroke="none" stroke-width="1" /><circle cx="246.85" cy="274.68" r="2.7" fill="url(#g7e1e96)" stroke="none" stroke-width="1" /><circle cx="248.84" cy="274.68" r="2.7" fill="url(#g7e1e96)" stroke="none" stroke-width="1" /><circle cx="250.84" cy="274.68" r="2.7" fill="url(#g7e1e96)" stroke="none" stroke-width="1" /><circle cx="252.83" cy="274.68" r="2.7" fill="url(#g7e1e96)" stroke="none" stroke-width="1" /><polyline points="36.7,287.8 37.78,287.41 38.87,287.01 39.95,286.68 41.04,286.53 42.13,286.39 43.21,286.24 44.3,286.1 45.38,285.95 46.47,285.88 47.56,285.84 48.64,285.79 49.73,285.75 50.82,285.7 51.9,285.66 52.99,285.61 54.07,285.57 55.16,285.52 56.25,285.5 57.33,285.49 58.42,285.49 59.5,285.48 60.59,285.47 61.68,285.47 62.76,285.46 63.85,285.46 64.93,285.45 66.02,285.45 67.11,285.44 68.19,285.44 69.28,285.43 70.36,285.42 71.45,285.42 72.54,285.41 73.62,285.41 74.71,285.4 75.8,285.4 76.88,285.41 77.97,285.41 79.05,285.42 80.14,285.43 81.23,285.43 82.31,285.44 83.4,285.45 84.48,285.46 85.57,285.46 86.66,285.47 87.74,285.48 88.83,285.48 89.91,285.49 91,285.5 92.09,285.5 93.17,285.51 94.26,285.52 95.34,285.53 96.43,285.53 97.52,285.54 98.6,285.55 99.69,285.55 100.78,285.56 101.86,285.57 102.95,285.58 104.03,285.58 105.12,285.59 106.21,285.6 107.29,285.6 108.38,285.61 109.46,285.62 110.55,285.62 111.64,285.63 112.72,285.64 113.81,285.65 114.89,285.65 115.98,285.66 117.07,285.68 118.15,285.69 119.24,285.71 120.32,285.72 121.41,285.74 122.5,285.75 123.58,285.76 124.67,285.78 125.76,285.79 126.84,285.81 127.93,285.82 129.01,285.84 130.1,285.85 131.19,285.86 132.27,285.88 133.36,285.89 134.44,285.91 135.53,285.92 136.62,285.94 137.7,285.95 138.79,285.96 139.87,285.98 140.96,285.99 142.05,286.01 143.13,286.02 144.22,286.04 145.31,286.05 146.39,286.06 147.48,286.08 148.56,286.09 149.65,286.11 150.74,286.12 151.82,286.14 152.91,286.15 153.99,286.16 155.08,286.18 156.17,286.19 157.25,286.19 158.34,286.2 159.42,286.21 160.51,286.22 161.6,286.22 162.68,286.23 163.77,286.24 164.85,286.24 165.94,286.25 167.03,286.26 168.11,286.27 169.2,286.27 170.29,286.28 171.37,286.29 172.46,286.3 173.54,286.3 174.63,286.31 175.72,286.32 176.8,286.32 177.89,286.33 178.97,286.34 180.06,286.35 181.15,286.35 182.23,286.36 183.32,286.37 184.4,286.37 185.49,286.38 186.58,286.39 187.66,286.4 188.75,286.4 189.83,286.41 190.92,286.42 192.01,286.43 193.09,286.43 194.18,286.44 195.27,286.45 196.35,286.45 197.44,286.46 198.52,286.47 199.61,286.48 200.7,286.48 201.78,286.49 202.87,286.5 203.95,286.51 205.04,286.51 206.13,286.52 207.21,286.53 208.3,286.53 209.38,286.54 210.47,286.55 211.56,286.56 212.64,286.56 213.73,286.57 214.81,286.58 215.9,286.59 216.99,286.59 218.07,286.6 219.16,286.61 220.25,286.61 221.33,286.62 222.42,286.63 223.5,286.64 224.59,286.64 225.68,286.65 226.76,286.66 227.85,286.67 228.93,286.67 230.02,286.68 231.11,286.69 232.19,286.7 233.28,286.7 234.36,286.71 235.45,286.71 236.54,286.71 237.62,286.71 238.71,286.71 239.79,286.71 240.88,286.71 241.97,286.71 243.05,286.71 244.14,286.71 245.23,286.71 246.31,286.71 247.4,286.71 248.48,286.71 249.57,286.71 250.66,286.71 251.74,286.71 252.83,286.71" fill="none" stroke="#f28c22" stroke-width="1.8" /><circle cx="36.7" cy="287.8" r="3" fill="url(#gf28c22)" stroke="none" stroke-width="1" /><circle cx="39.68" cy="286.71" r="2.7" fill="url(#gf28c22)" stroke="none" stroke-width="1" /><circle cx="41.68" cy="286.45" r="2.7" fill="url(#gf28c22)" stroke="none" stroke-width="1" /><circle cx="43.67" cy="286.18" r="2.7" fill="url(#gf28c22)" stroke="none" stroke-width="1" /><circle cx="45.66" cy="285.92" r="2.7" fill="url(#gf28c22)" stroke="none" stroke-width="1" /><circle cx="47.65" cy="285.83" r="2.7" fill="url(#gf28c22)" stroke="none" stroke-width="1" /><circle cx="49.64" cy="285.75" r="2.7" fill="url(#gf28c22)" stroke="none" stroke-width="1" /><circle cx="51.64" cy="285.67" r="2.7" fill="url(#gf28c22)" stroke="none" stroke-width="1" /><circle cx="53.63" cy="285.58" r="2.7" fill="url(#gf28c22)" stroke="none" stroke-width="1" /><circle cx="55.62" cy="285.5" r="2.7" fill="url(#gf28c22)" stroke="none" stroke-width="1" /><circle cx="75.54" cy="285.4" r="2.7" fill="url(#gf28c22)" stroke="none" stroke-width="1" /><circle cx="95.46" cy="285.53" r="2.7" fill="url(#gf28c22)" stroke="none" stroke-width="1" /><circle cx="115.38" cy="285.66" r="2.7" fill="url(#gf28c22)" stroke="none" stroke-width="1" /><circle cx="135.3" cy="285.92" r="2.7" fill="url(#gf28c22)" stroke="none" stroke-width="1" /><circle cx="155.22" cy="286.18" r="2.7" fill="url(#gf28c22)" stroke="none" stroke-width="1" /><circle cx="175.14" cy="286.31" r="2.7" fill="url(#gf28c22)" stroke="none" stroke-width="1" /><circle cx="195.06" cy="286.45" r="2.7" fill="url(#gf28c22)" stroke="none" stroke-width="1" /><circle cx="214.98" cy="286.58" r="2.7" fill="url(#gf28c22)" stroke="none" stroke-width="1" /><circle cx="232.91" cy="286.7" r="2.7" fill="url(#gf28c22)" stroke="none" stroke-width="1" /><circle cx="234.9" cy="286.71" r="2.7" fill="url(#gf28c22)" stroke="none" stroke-width="1" /><circle cx="236.89" cy="286.71" r="2.7" fill="url(#gf28c22)" stroke="none" stroke-width="1" /><circle cx="238.88" cy="286.71" r="2.7" fill="url(#gf28c22)" stroke="none" stroke-width="1" /><circle cx="240.88" cy="286.71" r="2.7" fill="url(#gf28c22)" stroke="none" stroke-width="1" /><circle cx="242.87" cy="286.71" r="2.7" fill="url(#gf28c22)" stroke="none" stroke-width="1" /><circle cx="244.86" cy="286.71" r="2.7" fill="url(#gf28c22)" stroke="none" stroke-width="1" /><circle cx="246.85" cy="286.71" r="2.7" fill="url(#gf28c22)" stroke="none" stroke-width="1" /><circle cx="248.84" cy="286.71" r="2.7" fill="url(#gf28c22)" stroke="none" stroke-width="1" /><circle cx="250.84" cy="286.71" r="2.7" fill="url(#gf28c22)" stroke="none" stroke-width="1" /><circle cx="252.83" cy="286.71" r="2.7" fill="url(#gf28c22)" stroke="none" stroke-width="1" /><polyline points="36.7,333.29 37.78,333.53 38.87,333.78 39.95,334.02 41.04,334.26 42.13,334.41 43.21,334.45 44.3,334.48 45.38,334.52 46.47,334.56 47.56,334.59 48.64,334.63 49.73,334.66 50.82,334.7 51.9,334.73 52.99,334.77 54.07,334.8 55.16,334.84 56.25,334.84 57.33,334.81 58.42,334.79 59.5,334.76 60.59,334.74 61.68,334.71 62.76,334.69 63.85,334.67 64.93,334.64 66.02,334.62 67.11,334.59 68.19,334.57 69.28,334.54 70.36,334.52 71.45,334.49 72.54,334.47 73.62,334.44 74.71,334.42 75.8,334.39 76.88,334.32 77.97,334.26 79.05,334.2 80.14,334.14 81.23,334.08 82.31,334.02 83.4,333.96 84.48,333.9 85.57,333.84 86.66,333.78 87.74,333.72 88.83,333.66 89.91,333.6 91,333.54 92.09,333.48 93.17,333.42 94.26,333.36 95.34,333.3 96.43,333.22 97.52,333.14 98.6,333.06 99.69,332.98 100.78,332.9 101.86,332.81 102.95,332.73 104.03,332.65 105.12,332.57 106.21,332.49 107.29,332.41 108.38,332.33 109.46,332.25 110.55,332.17 111.64,332.08 112.72,332 113.81,331.92 114.89,331.84 115.98,331.74 117.07,331.63 118.15,331.52 119.24,331.41 120.32,331.3 121.41,331.19 122.5,331.08 123.58,330.97 124.67,330.86 125.76,330.75 126.84,330.64 127.93,330.53 129.01,330.42 130.1,330.31 131.19,330.2 132.27,330.09 133.36,329.98 134.44,329.87 135.53,329.77 136.62,329.67 137.7,329.58 138.79,329.49 139.87,329.39 140.96,329.3 142.05,329.2 143.13,329.11 144.22,329.02 145.31,328.92 146.39,328.83 147.48,328.74 148.56,328.64 149.65,328.55 150.74,328.46 151.82,328.36 152.91,328.27 153.99,328.17 155.08,328.08 156.17,327.97 157.25,327.85 158.34,327.73 159.42,327.61 160.51,327.5 161.6,327.38 162.68,327.26 163.77,327.14 164.85,327.02 165.94,326.91 167.03,326.79 168.11,326.67 169.2,326.55 170.29,326.44 171.37,326.32 172.46,326.2 173.54,326.08 174.63,325.96 175.72,325.84 176.8,325.71 177.89,325.58 178.97,325.46 180.06,325.33 181.15,325.2 182.23,325.07 183.32,324.94 184.4,324.81 185.49,324.69 186.58,324.56 187.66,324.43 188.75,324.3 189.83,324.17 190.92,324.04 192.01,323.91 193.09,323.79 194.18,323.66 195.27,323.53 196.35,323.43 197.44,323.33 198.52,323.22 199.61,323.12 200.7,323.02 201.78,322.92 202.87,322.81 203.95,322.71 205.04,322.61 206.13,322.5 207.21,322.4 208.3,322.3 209.38,322.19 210.47,322.09 211.56,321.99 212.64,321.88 213.73,321.78 214.81,321.68 215.9,321.56 216.99,321.44 218.07,321.31 219.16,321.19 220.25,321.07 221.33,320.95 222.42,320.83 223.5,320.71 224.59,320.59 225.68,320.47 226.76,320.34 227.85,320.22 228.93,320.1 230.02,319.98 231.11,319.86 232.19,319.74 233.28,319.62 234.36,319.5 235.45,319.39 236.54,319.31 237.62,319.22 238.71,319.14 239.79,319.05 240.88,318.97 241.97,318.88 243.05,318.8 244.14,318.71 245.23,318.63 246.31,318.54 247.4,318.46 248.48,318.37 249.57,318.29 250.66,318.2 251.74,318.12 252.83,318.03" fill="none" stroke="#e8141a" stroke-width="1.8" /><circle cx="36.7" cy="333.29" r="3" fill="url(#ge8141a)" stroke="none" stroke-width="1" /><circle cx="39.68" cy="333.96" r="2.7" fill="url(#ge8141a)" stroke="none" stroke-width="1" /><circle cx="41.68" cy="334.4" r="2.7" fill="url(#ge8141a)" stroke="none" stroke-width="1" /><circle cx="43.67" cy="334.46" r="2.7" fill="url(#ge8141a)" stroke="none" stroke-width="1" /><circle cx="45.66" cy="334.53" r="2.7" fill="url(#ge8141a)" stroke="none" stroke-width="1" /><circle cx="47.65" cy="334.59" r="2.7" fill="url(#ge8141a)" stroke="none" stroke-width="1" /><circle cx="49.64" cy="334.66" r="2.7" fill="url(#ge8141a)" stroke="none" stroke-width="1" /><circle cx="51.64" cy="334.72" r="2.7" fill="url(#ge8141a)" stroke="none" stroke-width="1" /><circle cx="53.63" cy="334.79" r="2.7" fill="url(#ge8141a)" stroke="none" stroke-width="1" /><circle cx="55.62" cy="334.85" r="2.7" fill="url(#ge8141a)" stroke="none" stroke-width="1" /><circle cx="75.54" cy="334.4" r="2.7" fill="url(#ge8141a)" stroke="none" stroke-width="1" /><circle cx="95.46" cy="333.29" r="2.7" fill="url(#ge8141a)" stroke="none" stroke-width="1" /><circle cx="115.38" cy="331.8" r="2.7" fill="url(#ge8141a)" stroke="none" stroke-width="1" /><circle cx="135.3" cy="329.79" r="2.7" fill="url(#ge8141a)" stroke="none" stroke-width="1" /><circle cx="155.22" cy="328.07" r="2.7" fill="url(#ge8141a)" stroke="none" stroke-width="1" /><circle cx="175.14" cy="325.91" r="2.7" fill="url(#ge8141a)" stroke="none" stroke-width="1" /><circle cx="195.06" cy="323.55" r="2.7" fill="url(#ge8141a)" stroke="none" stroke-width="1" /><circle cx="214.98" cy="321.66" r="2.7" fill="url(#ge8141a)" stroke="none" stroke-width="1" /><circle cx="232.91" cy="319.66" r="2.7" fill="url(#ge8141a)" stroke="none" stroke-width="1" /><circle cx="234.9" cy="319.44" r="2.7" fill="url(#ge8141a)" stroke="none" stroke-width="1" /><circle cx="236.89" cy="319.28" r="2.7" fill="url(#ge8141a)" stroke="none" stroke-width="1" /><circle cx="238.88" cy="319.12" r="2.7" fill="url(#ge8141a)" stroke="none" stroke-width="1" /><circle cx="240.88" cy="318.97" r="2.7" fill="url(#ge8141a)" stroke="none" stroke-width="1" /><circle cx="242.87" cy="318.81" r="2.7" fill="url(#ge8141a)" stroke="none" stroke-width="1" /><circle cx="244.86" cy="318.65" r="2.7" fill="url(#ge8141a)" stroke="none" stroke-width="1" /><circle cx="246.85" cy="318.5" r="2.7" fill="url(#ge8141a)" stroke="none" stroke-width="1" /><circle cx="248.84" cy="318.34" r="2.7" fill="url(#ge8141a)" stroke="none" stroke-width="1" /><circle cx="250.84" cy="318.19" r="2.7" fill="url(#ge8141a)" stroke="none" stroke-width="1" /><circle cx="252.83" cy="318.03" r="2.7" fill="url(#ge8141a)" stroke="none" stroke-width="1" /><rect x="32" y="240.3" width="223.4" height="183.8" fill="none" stroke="#474747" stroke-width="1.8"/><line x1="35.7" y1="424.1" x2="35.7" y2="421.1" stroke="#474747" stroke-width="1.1" /><text x="35.7" y="436.3" font-size="10.6" fill="#2a2a2a" text-anchor="middle" font-weight="normal" >0.0</text><line x1="55.62" y1="424.1" x2="55.62" y2="422.1" stroke="#474747" stroke-width="1.1" /><line x1="75.54" y1="424.1" x2="75.54" y2="421.1" stroke="#474747" stroke-width="1.1" /><text x="75.54" y="436.3" font-size="10.6" fill="#2a2a2a" text-anchor="middle" font-weight="normal" >0.2</text><line x1="95.46" y1="424.1" x2="95.46" y2="422.1" stroke="#474747" stroke-width="1.1" /><line x1="115.38" y1="424.1" x2="115.38" y2="421.1" stroke="#474747" stroke-width="1.1" /><text x="115.38" y="436.3" font-size="10.6" fill="#2a2a2a" text-anchor="middle" font-weight="normal" >0.4</text><line x1="135.3" y1="424.1" x2="135.3" y2="422.1" stroke="#474747" stroke-width="1.1" /><line x1="155.22" y1="424.1" x2="155.22" y2="421.1" stroke="#474747" stroke-width="1.1" /><text x="155.22" y="436.3" font-size="10.6" fill="#2a2a2a" text-anchor="middle" font-weight="normal" >0.6</text><line x1="175.14" y1="424.1" x2="175.14" y2="422.1" stroke="#474747" stroke-width="1.1" /><line x1="195.06" y1="424.1" x2="195.06" y2="421.1" stroke="#474747" stroke-width="1.1" /><text x="195.06" y="436.3" font-size="10.6" fill="#2a2a2a" text-anchor="middle" font-weight="normal" >0.8</text><line x1="214.98" y1="424.1" x2="214.98" y2="422.1" stroke="#474747" stroke-width="1.1" /><line x1="234.9" y1="424.1" x2="234.9" y2="421.1" stroke="#474747" stroke-width="1.1" /><text x="234.9" y="436.3" font-size="10.6" fill="#2a2a2a" text-anchor="middle" font-weight="normal" >1.0</text><line x1="32" y1="424.1" x2="35.2" y2="424.1" stroke="#474747" stroke-width="1.0" /><line x1="32" y1="401.03" x2="34" y2="401.03" stroke="#474747" stroke-width="1.0" /><line x1="32" y1="387.53" x2="34" y2="387.53" stroke="#474747" stroke-width="1.0" /><line x1="32" y1="377.95" x2="34" y2="377.95" stroke="#474747" stroke-width="1.0" /><line x1="32" y1="370.52" x2="34" y2="370.52" stroke="#474747" stroke-width="1.0" /><line x1="32" y1="364.45" x2="34" y2="364.45" stroke="#474747" stroke-width="1.0" /><line x1="32" y1="359.32" x2="34" y2="359.32" stroke="#474747" stroke-width="1.0" /><line x1="32" y1="354.88" x2="34" y2="354.88" stroke="#474747" stroke-width="1.0" /><line x1="32" y1="350.96" x2="34" y2="350.96" stroke="#474747" stroke-width="1.0" /><text x="28" y="427.8" font-size="10.3" fill="#2a2a2a" text-anchor="end" font-weight="normal" >1</text><line x1="32" y1="347.45" x2="35.2" y2="347.45" stroke="#474747" stroke-width="1.0" /><line x1="32" y1="324.38" x2="34" y2="324.38" stroke="#474747" stroke-width="1.0" /><line x1="32" y1="310.88" x2="34" y2="310.88" stroke="#474747" stroke-width="1.0" /><line x1="32" y1="301.3" x2="34" y2="301.3" stroke="#474747" stroke-width="1.0" /><line x1="32" y1="293.87" x2="34" y2="293.87" stroke="#474747" stroke-width="1.0" /><line x1="32" y1="287.8" x2="34" y2="287.8" stroke="#474747" stroke-width="1.0" /><line x1="32" y1="282.67" x2="34" y2="282.67" stroke="#474747" stroke-width="1.0" /><line x1="32" y1="278.23" x2="34" y2="278.23" stroke="#474747" stroke-width="1.0" /><line x1="32" y1="274.31" x2="34" y2="274.31" stroke="#474747" stroke-width="1.0" /><text x="28" y="351.15" font-size="10.3" fill="#2a2a2a" text-anchor="end" font-weight="normal" >10</text><line x1="32" y1="270.8" x2="35.2" y2="270.8" stroke="#474747" stroke-width="1.0" /><line x1="32" y1="247.73" x2="34" y2="247.73" stroke="#474747" stroke-width="1.0" /><text x="28" y="274.5" font-size="10.3" fill="#2a2a2a" text-anchor="end" font-weight="normal" >100</text><text x="141.6" y="453.8" font-size="12.3" fill="#2a2a2a" text-anchor="middle" font-weight="normal" >Pressure (bar)</text><text transform="translate(10.2,336.5) rotate(-90)" font-size="12.3" fill="#2a2a2a" text-anchor="middle">IAST selectivity</text><line x1="166.8" y1="376.6" x2="191.3" y2="376.6" stroke="#7e1e96" stroke-width="1.8" /><circle cx="179.2" cy="376.6" r="2.7" fill="url(#g7e1e96)" stroke="none" stroke-width="1" /><text x="194.2" y="380.4" font-size="10.5" fill="#2a2a2a" text-anchor="start" font-weight="normal" >Xe/N<tspan dy="3" font-size="7.5">2</tspan><tspan dy="-3">-1/99</tspan></text><line x1="166.8" y1="393.4" x2="191.3" y2="393.4" stroke="#f28c22" stroke-width="1.8" /><circle cx="179.2" cy="393.4" r="2.7" fill="url(#gf28c22)" stroke="none" stroke-width="1" /><text x="194.2" y="397.2" font-size="10.5" fill="#2a2a2a" text-anchor="start" font-weight="normal" >Xe/O<tspan dy="3" font-size="7.5">2</tspan><tspan dy="-3">-1/99</tspan></text><line x1="166.8" y1="410.2" x2="191.3" y2="410.2" stroke="#e8141a" stroke-width="1.8" /><circle cx="179.2" cy="410.2" r="2.7" fill="url(#ge8141a)" stroke="none" stroke-width="1" /><text x="194.2" y="414" font-size="10.5" fill="#2a2a2a" text-anchor="start" font-weight="normal" >Xe/Kr-20/80</text><text x="269.3" y="246" font-size="17" fill="#222" text-anchor="start" font-weight="normal" >e)</text><linearGradient id="barg" x1="0" y1="0" x2="0" y2="1"><stop offset="0" stop-color="#7c7c7c"/><stop offset="0.35" stop-color="#8e8e8e"/><stop offset="1" stop-color="#c4c4c4"/></linearGradient><rect x="307.3" y="251.2" width="14.4" height="171.8" fill="#ff0000"/><rect x="331.8" y="277.5" width="15" height="145.5" fill="url(#barg)" stroke="#5a5a5a" stroke-width="0.9"/><rect x="356.4" y="300.6" width="14.7" height="122.4" fill="url(#barg)" stroke="#5a5a5a" stroke-width="0.9"/><rect x="381.2" y="327.9" width="14.7" height="95.1" fill="url(#barg)" stroke="#5a5a5a" stroke-width="0.9"/><rect x="405.7" y="341.1" width="15" height="81.9" fill="url(#barg)" stroke="#5a5a5a" stroke-width="0.9"/><rect x="430.1" y="346.1" width="14.8" height="76.9" fill="url(#barg)" stroke="#5a5a5a" stroke-width="0.9"/><rect x="455.4" y="354.4" width="14.4" height="68.6" fill="url(#barg)" stroke="#5a5a5a" stroke-width="0.9"/><rect x="480" y="362.5" width="14.8" height="60.5" fill="url(#barg)" stroke="#5a5a5a" stroke-width="0.9"/><rect x="504.4" y="378.5" width="14.8" height="44.5" fill="url(#barg)" stroke="#5a5a5a" stroke-width="0.9"/><rect x="302.2" y="240.3" width="222.2" height="182.7" fill="none" stroke="#474747" stroke-width="1.8"/><line x1="302.2" y1="423" x2="305.2" y2="423" stroke="#474747" stroke-width="1.1" /><text x="298.5" y="426.6" font-size="10.3" fill="#2a2a2a" text-anchor="end" font-weight="normal" >0</text><line x1="302.2" y1="386.5" x2="305.2" y2="386.5" stroke="#474747" stroke-width="1.1" /><text x="298.5" y="390.1" font-size="10.3" fill="#2a2a2a" text-anchor="end" font-weight="normal" >5</text><line x1="302.2" y1="350" x2="305.2" y2="350" stroke="#474747" stroke-width="1.1" /><text x="298.5" y="353.6" font-size="10.3" fill="#2a2a2a" text-anchor="end" font-weight="normal" >10</text><line x1="302.2" y1="313.5" x2="305.2" y2="313.5" stroke="#474747" stroke-width="1.1" /><text x="298.5" y="317.1" font-size="10.3" fill="#2a2a2a" text-anchor="end" font-weight="normal" >15</text><line x1="302.2" y1="277" x2="305.2" y2="277" stroke="#474747" stroke-width="1.1" /><text x="298.5" y="280.6" font-size="10.3" fill="#2a2a2a" text-anchor="end" font-weight="normal" >20</text><line x1="302.2" y1="240.5" x2="305.2" y2="240.5" stroke="#474747" stroke-width="1.1" /><text x="298.5" y="244.1" font-size="10.3" fill="#2a2a2a" text-anchor="end" font-weight="normal" >25</text><line x1="302.2" y1="404.75" x2="304.2" y2="404.75" stroke="#474747" stroke-width="1.1" /><line x1="302.2" y1="368.25" x2="304.2" y2="368.25" stroke="#474747" stroke-width="1.1" /><line x1="302.2" y1="331.75" x2="304.2" y2="331.75" stroke="#474747" stroke-width="1.1" /><line x1="302.2" y1="295.25" x2="304.2" y2="295.25" stroke="#474747" stroke-width="1.1" /><line x1="302.2" y1="258.75" x2="304.2" y2="258.75" stroke="#474747" stroke-width="1.1" /><text transform="translate(280.6,331.8) rotate(-90)" font-size="11.8" fill="#2a2a2a" text-anchor="middle">Xe/Kr selectivity</text><text transform="translate(323,431.5) rotate(-30)" font-size="11.6" font-weight="bold" fill="#e81818" text-anchor="end">ZJU-HOF-6a</text><text transform="translate(350.3,433.8) rotate(-30)" font-size="10.5" fill="#2a2a2a" text-anchor="end">HOF-FJU-46a</text><text transform="translate(374.75,433.8) rotate(-30)" font-size="10.5" fill="#2a2a2a" text-anchor="end">PAF-45S</text><text transform="translate(399.55,433.8) rotate(-30)" font-size="10.5" fill="#2a2a2a" text-anchor="end">CC3</text><text transform="translate(424.2,433.8) rotate(-30)" font-size="10.5" fill="#2a2a2a" text-anchor="end">HOF-40</text><text transform="translate(448.5,433.8) rotate(-30)" font-size="10.5" fill="#2a2a2a" text-anchor="end">ETTA_Br_a</text><text transform="translate(473.6,433.8) rotate(-30)" font-size="10.5" fill="#2a2a2a" text-anchor="end">Noria</text><text transform="translate(498.4,433.8) rotate(-30)" font-size="10.5" fill="#2a2a2a" text-anchor="end">HIAM-103</text><text transform="translate(522.8,433.8) rotate(-30)" font-size="10.5" fill="#2a2a2a" text-anchor="end">HOF-BTB</text><text x="547.3" y="245.3" font-size="17" fill="#222" text-anchor="start" font-weight="normal" >f)</text><linearGradient id="fbg" x1="0" y1="1" x2="1" y2="0"><stop offset="0" stop-color="#f9c4c4"/><stop offset="0.34" stop-color="#e4dcdc"/><stop offset="0.5" stop-color="#dde6e8"/><stop offset="0.75" stop-color="#b8f4f4"/><stop offset="1" stop-color="#b0eef4"/></linearGradient><rect x="565.5" y="240.0" width="222.20000000000005" height="183.60000000000002" fill="url(#fbg)"/><rect x="565.5" y="240.0" width="222.20000000000005" height="183.60000000000002" fill="none" stroke="#474747" stroke-width="1.8"/><line x1="590.16" y1="423.6" x2="590.16" y2="420.6" stroke="#474747" stroke-width="1.1" /><text x="590.16" y="436.3" font-size="10.3" fill="#2a2a2a" text-anchor="middle" font-weight="normal" >5</text><line x1="638.43" y1="423.6" x2="638.43" y2="420.6" stroke="#474747" stroke-width="1.1" /><text x="638.43" y="436.3" font-size="10.3" fill="#2a2a2a" text-anchor="middle" font-weight="normal" >10</text><line x1="686.69" y1="423.6" x2="686.69" y2="420.6" stroke="#474747" stroke-width="1.1" /><text x="686.69" y="436.3" font-size="10.3" fill="#2a2a2a" text-anchor="middle" font-weight="normal" >15</text><line x1="734.96" y1="423.6" x2="734.96" y2="420.6" stroke="#474747" stroke-width="1.1" /><text x="734.96" y="436.3" font-size="10.3" fill="#2a2a2a" text-anchor="middle" font-weight="normal" >20</text><line x1="783.23" y1="423.6" x2="783.23" y2="420.6" stroke="#474747" stroke-width="1.1" /><text x="783.23" y="436.3" font-size="10.3" fill="#2a2a2a" text-anchor="middle" font-weight="normal" >25</text><line x1="614.3" y1="423.6" x2="614.3" y2="421.6" stroke="#474747" stroke-width="1.1" /><line x1="662.56" y1="423.6" x2="662.56" y2="421.6" stroke="#474747" stroke-width="1.1" /><line x1="710.83" y1="423.6" x2="710.83" y2="421.6" stroke="#474747" stroke-width="1.1" /><line x1="759.09" y1="423.6" x2="759.09" y2="421.6" stroke="#474747" stroke-width="1.1" /><line x1="565.5" y1="423.6" x2="568.5" y2="423.6" stroke="#474747" stroke-width="1.1" /><text x="561.8" y="427.2" font-size="10.3" fill="#2a2a2a" text-anchor="end" font-weight="normal" >1</text><line x1="565.5" y1="386.48" x2="567.5" y2="386.48" stroke="#474747" stroke-width="1.1" /><line x1="565.5" y1="349.35" x2="568.5" y2="349.35" stroke="#474747" stroke-width="1.1" /><text x="561.8" y="352.95" font-size="10.3" fill="#2a2a2a" text-anchor="end" font-weight="normal" >2</text><line x1="565.5" y1="312.23" x2="567.5" y2="312.23" stroke="#474747" stroke-width="1.1" /><line x1="565.5" y1="275.1" x2="568.5" y2="275.1" stroke="#474747" stroke-width="1.1" /><text x="561.8" y="278.7" font-size="10.3" fill="#2a2a2a" text-anchor="end" font-weight="normal" >3</text><text x="676.2" y="452.3" font-size="12.3" fill="#2a2a2a" text-anchor="middle" font-weight="normal" >Xe/Kr selectivity</text><text transform="translate(549,331.4) rotate(-90)" font-size="12.3" fill="#2a2a2a" text-anchor="middle">Xe uptake (mmol g<tspan dy="-4" font-size="7.5">-1</tspan><tspan dy="4">)</tspan></text><polygon points="768.4,246.2 770.13,250.82 775.06,251.04 771.2,254.11 772.51,258.86 768.4,256.14 764.29,258.86 765.6,254.11 761.74,251.04 766.67,250.82" fill="#ee1111" stroke="none" stroke-width="1" /><text x="752.7" y="272.9" font-size="10.6" fill="#e01818" text-anchor="middle" font-weight="bold" >ZJU-HOF-6a</text><polygon points="599.1,316.4 602.71,319.03 601.33,323.27 596.87,323.27 595.49,319.03" fill="#2a30e8" stroke="none" stroke-width="1" /><text x="595.6" y="313.5" font-size="8.6" fill="#2a3ae0" text-anchor="middle" font-weight="normal" >COP-14</text><polygon points="624,334.1 617.92,330.49 617.92,337.71" fill="#f08a20" stroke="none" stroke-width="1" /><text x="625.1" y="327" font-size="8.6" fill="#f0a050" text-anchor="middle" font-weight="normal" >PAF-45</text><circle cx="652.2" cy="322.2" r="3.4" fill="#f08a20" stroke="none" stroke-width="1" /><text x="663.5" y="337.2" font-size="8.6" fill="#f0a050" text-anchor="middle" font-weight="normal" >POP-ch-SP</text><polygon points="667,312.4 670.9,316.3 667,320.2 663.1,316.3" fill="#1a8a1a" stroke="none" stroke-width="1" /><text x="669.4" y="308.4" font-size="8.6" fill="#2a8a2a" text-anchor="middle" font-weight="normal" >CC3</text><polygon points="733.6,307.6 737.59,314.32 729.61,314.32" fill="#6a1a80" stroke="none" stroke-width="1" /><text x="732.5" y="330.3" font-size="8.6" fill="#7a3a9a" text-anchor="middle" font-weight="normal" >HOF-FJU-46a</text><polygon points="603.3,350.85 600.1,352.7 596.9,350.85 596.9,347.15 600.1,345.3 603.3,347.15" fill="#6a1a80" stroke="none" stroke-width="1" /><text x="594" y="342.3" font-size="8.6" fill="#8a3a9a" text-anchor="middle" font-weight="normal" >HOF-BTB</text><polygon points="658.3,359.8 661.91,362.43 660.53,366.67 656.07,366.67 654.69,362.43" fill="#6a1a80" stroke="none" stroke-width="1" /><text x="661.5" y="357" font-size="8.6" fill="#7a3a9a" text-anchor="middle" font-weight="normal" >HOF-FJU-8a</text><polygon points="702.3,356.6 706.2,360.5 702.3,364.4 698.4,360.5" fill="#f08a20" stroke="none" stroke-width="1" /><text x="710.5" y="363.6" font-size="8.6" fill="#f0a050" text-anchor="start" font-weight="normal" >PAF-45S</text><polygon points="598.2,378.3 602.19,371.58 594.21,371.58" fill="#2a30e8" stroke="none" stroke-width="1" /><text x="594" y="366.3" font-size="8.6" fill="#2a3ae0" text-anchor="middle" font-weight="normal" >TFB-TAPA-Bu</text><polygon points="632,378.2 635.99,384.92 628.01,384.92" fill="#1a8a1a" stroke="none" stroke-width="1" /><text x="631.7" y="375.7" font-size="8.6" fill="#2a8a2a" text-anchor="middle" font-weight="normal" >Noria</text><polygon points="649.5,387 653.49,380.28 645.51,380.28" fill="#6a1a80" stroke="none" stroke-width="1" /><text x="655.4" y="385" font-size="8.6" fill="#7a3a9a" text-anchor="start" font-weight="normal" >HOF-40</text><polygon points="635,396.6 638.99,389.88 631.01,389.88" fill="#f020f0" stroke="none" stroke-width="1" /><text x="639.7" y="397.7" font-size="8.6" fill="#f040f0" text-anchor="start" font-weight="normal" >ETTA_Cl_a</text><polygon points="621.5,390.7 625.4,394.6 621.5,398.5 617.6,394.6" fill="#6a1a80" stroke="none" stroke-width="1" /><text x="620.5" y="410.4" font-size="8.6" fill="#7a3a9a" text-anchor="middle" font-weight="normal" >HIAM-103</text><polygon points="585.72,405.4 582.6,407.2 579.48,405.4 579.48,401.8 582.6,400 585.72,401.8" fill="#f08a20" stroke="none" stroke-width="1" /><text x="584" y="397.3" font-size="8.6" fill="#f0a050" text-anchor="middle" font-weight="normal" >PAF-4F</text><text x="271.2" y="14.3" font-size="17" fill="#222" text-anchor="start" font-weight="normal" >b)</text><line x1="298.41" y1="169.07" x2="396.59" y2="138.17" stroke="#cccccc" stroke-width="0.9" stroke-dasharray="1,1.8"/><line x1="396.59" y1="138.17" x2="526.68" y2="158.57" stroke="#cccccc" stroke-width="0.9" stroke-dasharray="1,1.8"/><line x1="297.63" y1="136.02" x2="396.57" y2="110.24" stroke="#cccccc" stroke-width="0.9" stroke-dasharray="1,1.8"/><line x1="396.57" y1="110.24" x2="527.45" y2="127.42" stroke="#cccccc" stroke-width="0.9" stroke-dasharray="1,1.8"/><line x1="296.84" y1="102.96" x2="396.55" y2="82.32" stroke="#cccccc" stroke-width="0.9" stroke-dasharray="1,1.8"/><line x1="396.55" y1="82.32" x2="528.21" y2="96.26" stroke="#cccccc" stroke-width="0.9" stroke-dasharray="1,1.8"/><line x1="296.06" y1="69.91" x2="396.53" y2="54.39" stroke="#cccccc" stroke-width="0.9" stroke-dasharray="1,1.8"/><line x1="396.53" y1="54.39" x2="528.97" y2="65.11" stroke="#cccccc" stroke-width="0.9" stroke-dasharray="1,1.8"/><line x1="295.28" y1="36.86" x2="396.51" y2="26.46" stroke="#cccccc" stroke-width="0.9" stroke-dasharray="1,1.8"/><line x1="396.51" y1="26.46" x2="529.74" y2="33.95" stroke="#cccccc" stroke-width="0.9" stroke-dasharray="1,1.8"/><line x1="307.51" y1="178.35" x2="303.86" y2="11.81" stroke="#cccccc" stroke-width="0.9" stroke-dasharray="1,1.8"/><line x1="328.07" y1="171.46" x2="325.24" y2="10.42" stroke="#cccccc" stroke-width="0.9" stroke-dasharray="1,1.8"/><line x1="348.63" y1="164.57" x2="346.62" y2="9.03" stroke="#cccccc" stroke-width="0.9" stroke-dasharray="1,1.8"/><line x1="367.72" y1="158.18" x2="366.47" y2="7.75" stroke="#cccccc" stroke-width="0.9" stroke-dasharray="1,1.8"/><line x1="385.83" y1="152.11" x2="385.3" y2="6.53" stroke="#cccccc" stroke-width="0.9" stroke-dasharray="1,1.8"/><line x1="406.46" y1="150.14" x2="406.67" y2="6.19" stroke="#cccccc" stroke-width="0.9" stroke-dasharray="1,1.8"/><line x1="448.52" y1="157.14" x2="450.02" y2="7.84" stroke="#cccccc" stroke-width="0.9" stroke-dasharray="1,1.8"/><line x1="493.3" y1="164.59" x2="496.18" y2="9.6" stroke="#cccccc" stroke-width="0.9" stroke-dasharray="1,1.8"/><line x1="326.11" y1="172.12" x2="465.7" y2="200.41" stroke="#cccccc" stroke-width="0.9" stroke-dasharray="1,1.8"/><line x1="346.67" y1="165.23" x2="483.41" y2="191.57" stroke="#cccccc" stroke-width="0.9" stroke-dasharray="1,1.8"/><line x1="365.76" y1="158.83" x2="499.85" y2="183.36" stroke="#cccccc" stroke-width="0.9" stroke-dasharray="1,1.8"/><line x1="383.87" y1="152.76" x2="515.44" y2="175.57" stroke="#cccccc" stroke-width="0.9" stroke-dasharray="1,1.8"/><line x1="406.46" y1="150.14" x2="309.6" y2="183.65" stroke="#cccccc" stroke-width="0.9" stroke-dasharray="1,1.8"/><line x1="448.52" y1="157.14" x2="356.06" y2="193.66" stroke="#cccccc" stroke-width="0.9" stroke-dasharray="1,1.8"/><line x1="493.3" y1="164.59" x2="405.53" y2="204.32" stroke="#cccccc" stroke-width="0.9" stroke-dasharray="1,1.8"/><polygon points="298.7,181.3 321.5,173.6 420.8,195.5 403.3,203.2" fill="#48f0f0" stroke="none" stroke-width="1" /><polygon points="408,203.1 421,195.4 457.5,203.6 442.1,212.2" fill="#f5a55c" stroke="#e86a3a" stroke-width="0.6" stroke-dasharray="1,1"/><line x1="298.7" y1="181.3" x2="294.7" y2="12.4" stroke="#3a3a3a" stroke-width="1.6" stroke-linecap="round"/><line x1="294.7" y1="12.4" x2="396.5" y2="5.8" stroke="#3a3a3a" stroke-width="1.6" stroke-linecap="round"/><line x1="396.5" y1="5.8" x2="530.3" y2="10.9" stroke="#3a3a3a" stroke-width="1.6" stroke-linecap="round"/><line x1="396.5" y1="5.8" x2="396.6" y2="148.5" stroke="#3a3a3a" stroke-width="1.6" stroke-linecap="round"/><line x1="530.3" y1="10.9" x2="526.4" y2="170.1" stroke="#3a3a3a" stroke-width="1.6" stroke-linecap="round"/><line x1="298.7" y1="181.3" x2="396.6" y2="148.5" stroke="#3a3a3a" stroke-width="1.6" stroke-linecap="round"/><line x1="396.6" y1="148.5" x2="526.4" y2="170.1" stroke="#3a3a3a" stroke-width="1.6" stroke-linecap="round"/><line x1="298.7" y1="181.3" x2="442.1" y2="212.2" stroke="#3a3a3a" stroke-width="1.6" stroke-linecap="round"/><line x1="442.1" y1="212.2" x2="526.4" y2="170.1" stroke="#3a3a3a" stroke-width="1.6" stroke-linecap="round"/><line x1="403.3" y1="203.2" x2="490.5" y2="163.7" stroke="#1a1a1a" stroke-width="1.5" stroke-dasharray="3.2,2.2"/><line x1="298.41" y1="169.07" x2="301.01" y2="168.77" stroke="#262626" stroke-width="1.0" /><text transform="translate(296.41,172.27) scale(0.72,1)" font-size="9.2" fill="#2a2a2a" text-anchor="end">1.0</text><line x1="298.02" y1="152.54" x2="299.62" y2="152.24" stroke="#262626" stroke-width="1.0" /><line x1="297.63" y1="136.02" x2="300.23" y2="135.72" stroke="#262626" stroke-width="1.0" /><text transform="translate(295.63,139.22) scale(0.72,1)" font-size="9.2" fill="#2a2a2a" text-anchor="end">1.5</text><line x1="297.24" y1="119.49" x2="298.84" y2="119.19" stroke="#262626" stroke-width="1.0" /><line x1="296.84" y1="102.96" x2="299.44" y2="102.66" stroke="#262626" stroke-width="1.0" /><text transform="translate(294.84,106.16) scale(0.72,1)" font-size="9.2" fill="#2a2a2a" text-anchor="end">2.0</text><line x1="296.45" y1="86.44" x2="298.05" y2="86.14" stroke="#262626" stroke-width="1.0" /><line x1="296.06" y1="69.91" x2="298.66" y2="69.61" stroke="#262626" stroke-width="1.0" /><text transform="translate(294.06,73.11) scale(0.72,1)" font-size="9.2" fill="#2a2a2a" text-anchor="end">2.5</text><line x1="295.67" y1="53.39" x2="297.27" y2="53.09" stroke="#262626" stroke-width="1.0" /><line x1="295.28" y1="36.86" x2="297.88" y2="36.56" stroke="#262626" stroke-width="1.0" /><text transform="translate(293.28,40.06) scale(0.72,1)" font-size="9.2" fill="#2a2a2a" text-anchor="end">3.0</text><text transform="translate(274.2,101) rotate(90) scale(1,0.85)" font-size="10.2" fill="#2a2a2a" text-anchor="middle">Xe uptake capacity (mmol g<tspan dy="-3.5" font-size="7">-1</tspan><tspan dy="3.5">)</tspan></text><line x1="307.59" y1="183.22" x2="308.79" y2="181.02" stroke="#262626" stroke-width="1.0" /><line x1="325.95" y1="187.17" x2="327.15" y2="184.97" stroke="#262626" stroke-width="1.0" /><line x1="351.76" y1="192.73" x2="352.96" y2="190.53" stroke="#262626" stroke-width="1.0" /><line x1="374.7" y1="197.68" x2="375.9" y2="195.48" stroke="#262626" stroke-width="1.0" /><line x1="404.82" y1="204.17" x2="406.02" y2="201.97" stroke="#262626" stroke-width="1.0" /><line x1="432.06" y1="210.04" x2="433.26" y2="207.84" stroke="#262626" stroke-width="1.0" /><text transform="translate(307.5,194.6) rotate(10) skewX(-4)" font-size="10.2" fill="#2a2a2a" text-anchor="middle">200</text><text transform="translate(352,203.2) rotate(10) skewX(-4)" font-size="10.2" fill="#2a2a2a" text-anchor="middle">600</text><text transform="translate(399.5,214.4) rotate(10) skewX(-4)" font-size="10.2" fill="#2a2a2a" text-anchor="middle">1000</text><text transform="translate(434.6,220.6) rotate(10) skewX(-4)" font-size="10.2" fill="#2a2a2a" text-anchor="middle">1500</text><text transform="translate(360,216.8) rotate(10.5) skewX(-4)" font-size="11.6" fill="#2a2a2a" text-anchor="middle">BET surface area (m<tspan dy="-4" font-size="7.5">2</tspan><tspan dy="4"> g</tspan><tspan dy="-4" font-size="7.5">-1</tspan><tspan dy="4">)</tspan></text><line x1="453.06" y1="206.73" x2="451.56" y2="204.43" stroke="#262626" stroke-width="1.0" /><line x1="469.92" y1="198.31" x2="468.42" y2="196.01" stroke="#262626" stroke-width="1.0" /><line x1="486.78" y1="189.89" x2="485.28" y2="187.59" stroke="#262626" stroke-width="1.0" /><line x1="501.11" y1="182.73" x2="499.61" y2="180.43" stroke="#262626" stroke-width="1.0" /><line x1="515.44" y1="175.57" x2="513.94" y2="173.27" stroke="#262626" stroke-width="1.0" /><text transform="translate(456.5,216) rotate(-30)" font-size="10" fill="#2a2a2a" text-anchor="middle">4</text><text transform="translate(474.5,205.8) rotate(-30)" font-size="10" fill="#2a2a2a" text-anchor="middle">6</text><text transform="translate(491.8,197.5) rotate(-30)" font-size="10" fill="#2a2a2a" text-anchor="middle">8</text><text transform="translate(507,189.3) rotate(-30)" font-size="10" fill="#2a2a2a" text-anchor="middle">10</text><text transform="translate(522.2,182) rotate(-30)" font-size="10" fill="#2a2a2a" text-anchor="middle">12</text><text transform="translate(504.2,206.2) rotate(-31)" font-size="10.6" fill="#2a2a2a" text-anchor="middle">Pore size (Å)</text><line x1="430" y1="27" x2="429.3" y2="201" stroke="#e85a5a" stroke-width="1.4" stroke-dasharray="2.6,2.4"/><line x1="348.8" y1="74" x2="350.4" y2="183.9" stroke="#8c8c1e" stroke-width="1.2" stroke-dasharray="2.2,2.2"/><ellipse cx="350.4" cy="184.9" rx="2.9" ry="1.1" fill="#8c8c1e" opacity="0.8"/><line x1="350.4" y1="182.4" x2="350.4" y2="184.9" stroke="#8c8c1e" stroke-width="0.9" opacity="0.8"/><line x1="368.4" y1="90.7" x2="369.2" y2="188.1" stroke="#2040e0" stroke-width="1.2" stroke-dasharray="2.2,2.2"/><ellipse cx="369.2" cy="189.1" rx="2.9" ry="1.1" fill="#2040e0" opacity="0.8"/><line x1="369.2" y1="186.6" x2="369.2" y2="189.1" stroke="#2040e0" stroke-width="0.9" opacity="0.8"/><line x1="338.3" y1="121.4" x2="339.2" y2="183" stroke="#7a1a8a" stroke-width="1.2" stroke-dasharray="2.2,2.2"/><ellipse cx="339.2" cy="184" rx="2.9" ry="1.1" fill="#7a1a8a" opacity="0.8"/><line x1="339.2" y1="181.5" x2="339.2" y2="184" stroke="#7a1a8a" stroke-width="0.9" opacity="0.8"/><line x1="357.6" y1="116.9" x2="358.5" y2="181" stroke="#40c040" stroke-width="1.2" stroke-dasharray="2.2,2.2"/><ellipse cx="358.5" cy="182" rx="2.9" ry="1.1" fill="#40c040" opacity="0.8"/><line x1="358.5" y1="179.5" x2="358.5" y2="182" stroke="#40c040" stroke-width="0.9" opacity="0.8"/><line x1="322.2" y1="135.2" x2="323.1" y2="180" stroke="#e08020" stroke-width="1.2" stroke-dasharray="2.2,2.2"/><ellipse cx="323.1" cy="181" rx="2.9" ry="1.1" fill="#e08020" opacity="0.8"/><line x1="323.1" y1="178.5" x2="323.1" y2="181" stroke="#e08020" stroke-width="0.9" opacity="0.8"/><line x1="354.2" y1="132.7" x2="354.9" y2="175.7" stroke="#e040a0" stroke-width="1.2" stroke-dasharray="2.2,2.2"/><ellipse cx="354.9" cy="176.7" rx="2.9" ry="1.1" fill="#e040a0" opacity="0.8"/><line x1="354.9" y1="174.2" x2="354.9" y2="176.7" stroke="#e040a0" stroke-width="0.9" opacity="0.8"/><line x1="340.5" y1="140.4" x2="341.4" y2="175.7" stroke="#30b8c8" stroke-width="1.2" stroke-dasharray="2.2,2.2"/><ellipse cx="341.4" cy="176.7" rx="2.9" ry="1.1" fill="#30b8c8" opacity="0.8"/><line x1="341.4" y1="174.2" x2="341.4" y2="176.7" stroke="#30b8c8" stroke-width="0.9" opacity="0.8"/><line x1="380.3" y1="147.2" x2="380.2" y2="181" stroke="#2030d0" stroke-width="1.2" stroke-dasharray="2.2,2.2"/><ellipse cx="380.2" cy="182" rx="2.9" ry="1.1" fill="#2030d0" opacity="0.8"/><line x1="380.2" y1="179.5" x2="380.2" y2="182" stroke="#2030d0" stroke-width="0.9" opacity="0.8"/><line x1="399.2" y1="97.2" x2="399.2" y2="187.5" stroke="#1a7a1a" stroke-width="1.2" stroke-dasharray="2.2,2.2"/><ellipse cx="399.2" cy="188.5" rx="2.9" ry="1.1" fill="#1a7a1a" opacity="0.8"/><line x1="399.2" y1="186" x2="399.2" y2="188.5" stroke="#1a7a1a" stroke-width="0.9" opacity="0.8"/><line x1="417.2" y1="127.9" x2="416.7" y2="180.5" stroke="#e020e0" stroke-width="1.2" stroke-dasharray="2.2,2.2"/><ellipse cx="416.7" cy="181.5" rx="2.9" ry="1.1" fill="#e020e0" opacity="0.8"/><line x1="416.7" y1="179" x2="416.7" y2="181.5" stroke="#e020e0" stroke-width="0.9" opacity="0.8"/><line x1="468.6" y1="100.7" x2="467.3" y2="170.7" stroke="#30a0e0" stroke-width="1.2" stroke-dasharray="2.2,2.2"/><ellipse cx="467.3" cy="171.7" rx="2.9" ry="1.1" fill="#30a0e0" opacity="0.8"/><line x1="467.3" y1="169.2" x2="467.3" y2="171.7" stroke="#30a0e0" stroke-width="0.9" opacity="0.8"/><line x1="516.9" y1="74" x2="514.9" y2="168.2" stroke="#7020c8" stroke-width="1.2" stroke-dasharray="2.2,2.2"/><ellipse cx="514.9" cy="169.2" rx="2.9" ry="1.1" fill="#7020c8" opacity="0.8"/><line x1="514.9" y1="166.7" x2="514.9" y2="169.2" stroke="#7020c8" stroke-width="0.9" opacity="0.8"/><line x1="444.2" y1="165.9" x2="444.2" y2="170.7" stroke="#801818" stroke-width="1.2" stroke-dasharray="2.2,2.2"/><ellipse cx="444.2" cy="171.7" rx="2.9" ry="1.1" fill="#801818" opacity="0.8"/><line x1="444.2" y1="169.2" x2="444.2" y2="171.7" stroke="#801818" stroke-width="0.9" opacity="0.8"/><line x1="471.2" y1="152.4" x2="470.3" y2="177.5" stroke="#b0b020" stroke-width="1.2" stroke-dasharray="2.2,2.2"/><ellipse cx="470.3" cy="178.5" rx="2.9" ry="1.1" fill="#b0b020" opacity="0.8"/><line x1="470.3" y1="176" x2="470.3" y2="178.5" stroke="#b0b020" stroke-width="0.9" opacity="0.8"/><circle cx="348.8" cy="70.8" r="2.5" fill="url(#g8c8c1e)" stroke="none" stroke-width="1" /><text transform="translate(342.4,66.5) rotate(-5)" font-size="8.3" fill="#8c8c30" text-anchor="middle" stroke="#fff" stroke-width="2.2" paint-order="stroke" stroke-linejoin="round">HOF-FJU-46a</text><circle cx="368.4" cy="87.5" r="2.5" fill="url(#g2040e0)" stroke="none" stroke-width="1" /><text transform="translate(368.8,82.5) rotate(0)" font-size="8.3" fill="#3050e0" text-anchor="middle" stroke="#fff" stroke-width="2.2" paint-order="stroke" stroke-linejoin="round">CC3</text><circle cx="338.3" cy="118.2" r="2.5" fill="url(#g7a1a8a)" stroke="none" stroke-width="1" /><text transform="translate(327,114) rotate(-13)" font-size="8.3" fill="#a03070" text-anchor="middle" stroke="#fff" stroke-width="2.2" paint-order="stroke" stroke-linejoin="round">HOF-FJU-8a</text><circle cx="357.6" cy="113.7" r="2.5" fill="url(#g40c040)" stroke="none" stroke-width="1" /><text transform="translate(372,109.8) rotate(0)" font-size="8.3" fill="#40c040" text-anchor="middle" stroke="#fff" stroke-width="2.2" paint-order="stroke" stroke-linejoin="round">PAF-45S</text><circle cx="322.2" cy="132" r="2.5" fill="url(#ge08020)" stroke="none" stroke-width="1" /><text transform="translate(319.5,129) rotate(-8)" font-size="8.3" fill="#e89040" text-anchor="middle" stroke="#fff" stroke-width="2.2" paint-order="stroke" stroke-linejoin="round">HOF-40</text><circle cx="354.2" cy="129.5" r="2.5" fill="url(#ge040a0)" stroke="none" stroke-width="1" /><text transform="translate(361,127) rotate(0)" font-size="8.3" fill="#e040a0" text-anchor="middle" stroke="#fff" stroke-width="2.2" paint-order="stroke" stroke-linejoin="round">Noria</text><circle cx="340.5" cy="137.2" r="2.5" fill="url(#g30b8c8)" stroke="none" stroke-width="1" /><text transform="translate(341,150.4) rotate(0)" font-size="8.3" fill="#40c0c8" text-anchor="middle" stroke="#fff" stroke-width="2.2" paint-order="stroke" stroke-linejoin="round">ETTA_Cl_a</text><circle cx="380.3" cy="144" r="2.5" fill="url(#g2030d0)" stroke="none" stroke-width="1" /><text transform="translate(376.7,139) rotate(0)" font-size="8.3" fill="#3040d0" text-anchor="middle" stroke="#fff" stroke-width="2.2" paint-order="stroke" stroke-linejoin="round">HIAM-103</text><circle cx="399.2" cy="94" r="2.5" fill="url(#g1a7a1a)" stroke="none" stroke-width="1" /><text transform="translate(412,89.5) rotate(0)" font-size="8.3" fill="#2a8a2a" text-anchor="middle" stroke="#fff" stroke-width="2.2" paint-order="stroke" stroke-linejoin="round">PAF-45</text><circle cx="417.2" cy="124.7" r="2.5" fill="url(#ge020e0)" stroke="none" stroke-width="1" /><text transform="translate(429.4,119.4) rotate(0)" font-size="8.3" fill="#e030e0" text-anchor="middle" stroke="#fff" stroke-width="2.2" paint-order="stroke" stroke-linejoin="round">TFB-TAPA-Bu</text><circle cx="468.6" cy="97.5" r="2.5" fill="url(#g30a0e0)" stroke="none" stroke-width="1" /><text transform="translate(468.7,92.9) rotate(0)" font-size="8.3" fill="#40a8e8" text-anchor="middle" stroke="#fff" stroke-width="2.2" paint-order="stroke" stroke-linejoin="round">HOF-BTB</text><circle cx="516.9" cy="70.8" r="2.5" fill="url(#g7020c8)" stroke="none" stroke-width="1" /><text transform="translate(509,64.5) rotate(0)" font-size="8.3" fill="#9040d8" text-anchor="middle" stroke="#fff" stroke-width="2.2" paint-order="stroke" stroke-linejoin="round">COP-14</text><circle cx="444.2" cy="162.7" r="2.5" fill="url(#g801818)" stroke="none" stroke-width="1" /><text transform="translate(449.7,155) rotate(0)" font-size="8.3" fill="#a04040" text-anchor="middle" stroke="#fff" stroke-width="2.2" paint-order="stroke" stroke-linejoin="round">PAF-8F</text><circle cx="471.2" cy="149.2" r="2.5" fill="url(#gb0b020)" stroke="none" stroke-width="1" /><text transform="translate(472,142.4) rotate(0)" font-size="8.3" fill="#c0c040" text-anchor="middle" stroke="#fff" stroke-width="2.2" paint-order="stroke" stroke-linejoin="round">PAF-4F</text><ellipse cx="429.1" cy="202.1" rx="3" ry="1.3" fill="#f02020"/><polygon points="430.4,15 431.88,18.96 436.11,19.15 432.8,21.78 433.93,25.85 430.4,23.52 426.87,25.85 428,21.78 424.69,19.15 428.92,18.96" fill="#ee1111" stroke="none" stroke-width="1" /><text x="441" y="24.5" font-size="10.6" fill="#e01818" text-anchor="start" font-weight="bold" >ZJU-HOF-6a</text><rect x="0" y="466.5" width="794" height="2" fill="#111"/></svg></body></html>
